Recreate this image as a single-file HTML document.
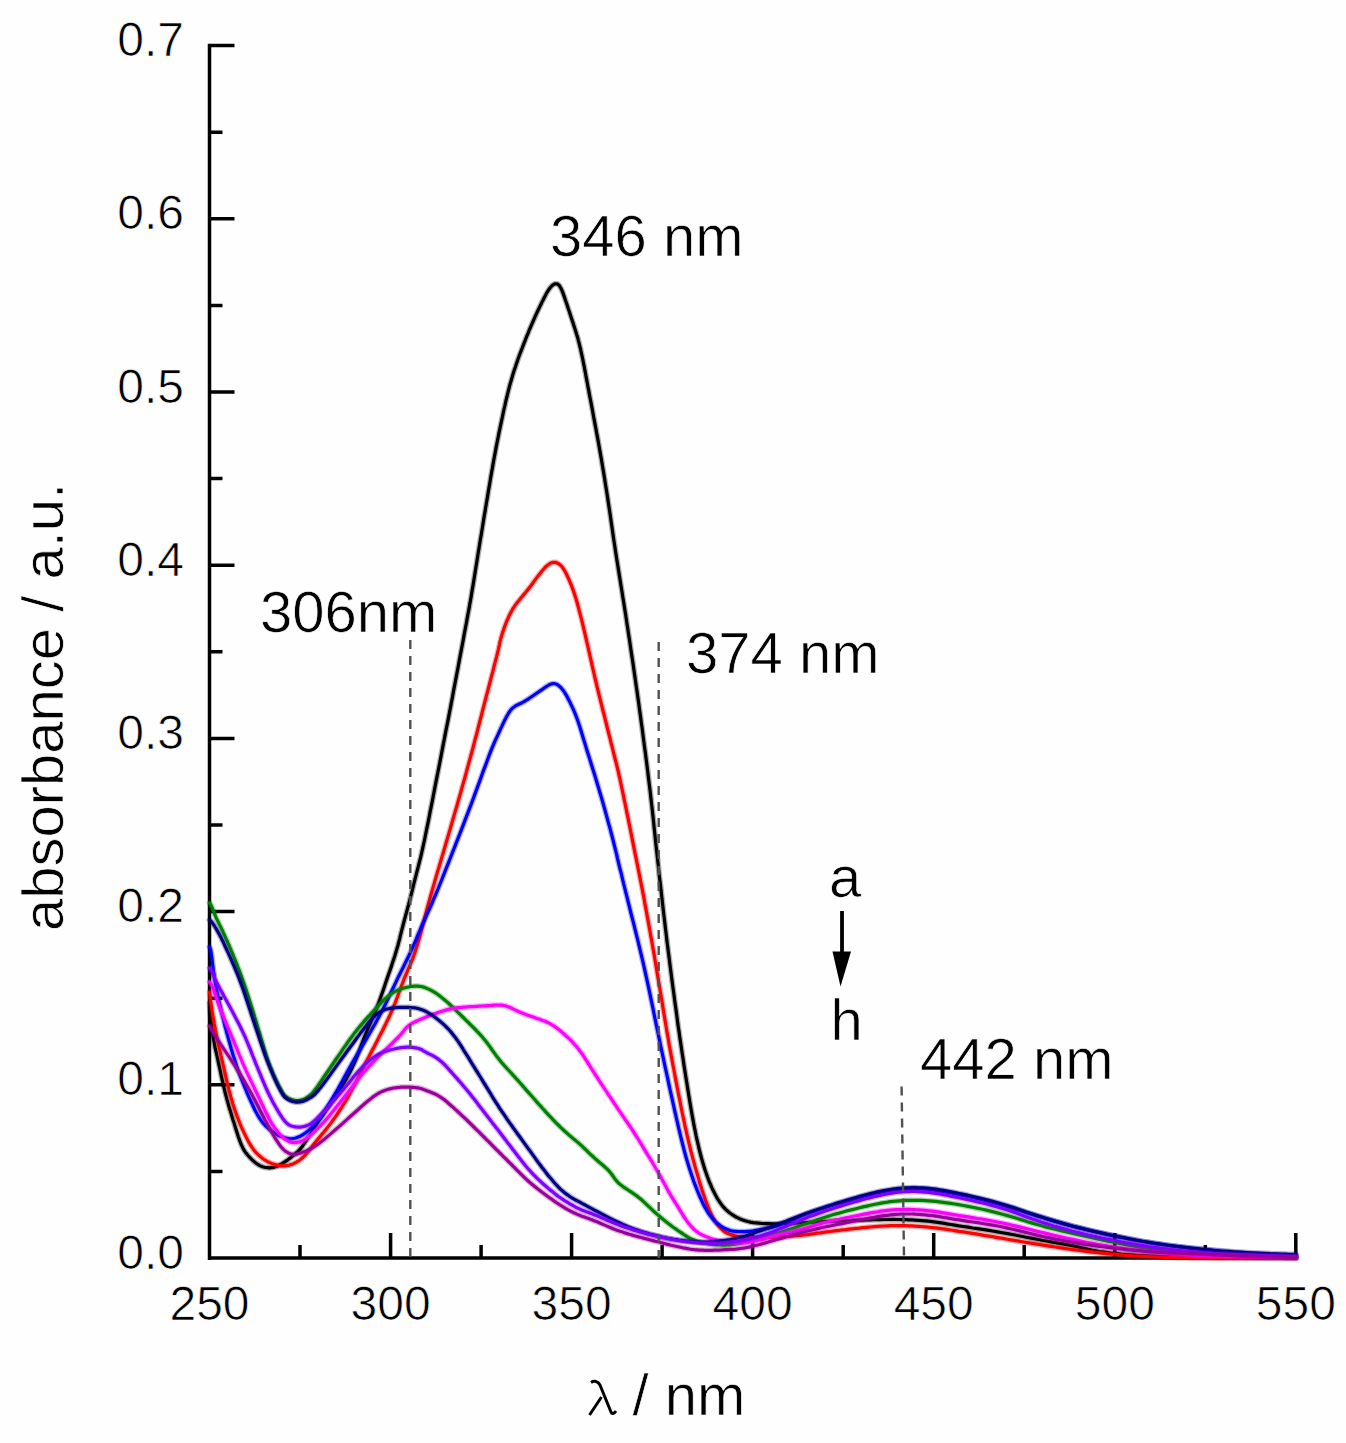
<!DOCTYPE html>
<html><head><meta charset="utf-8"><style>
html,body{margin:0;padding:0;background:#fefefe;}
svg{display:block;}
text{font-family:"Liberation Sans",sans-serif;fill:#000;stroke:#fff;stroke-width:0.7px;}
</style></head><body>
<svg width="1346" height="1443" viewBox="0 0 1346 1443">
<rect width="1346" height="1443" fill="#fefefe"/>
<g stroke="#000" stroke-width="3.5" fill="none" stroke-linecap="butt">
<path d="M209.5 44V1260M207.8 1258H1297.5M207.8 45.5H234.5 M209.5 1171.4H222.5 M209.5 1084.8H234.5 M209.5 998.2H222.5 M209.5 911.6H234.5 M209.5 825.0H222.5 M209.5 738.4H234.5 M209.5 651.8H222.5 M209.5 565.2H234.5 M209.5 478.6H222.5 M209.5 392.0H234.5 M209.5 305.4H222.5 M209.5 218.8H234.5 M209.5 132.2H222.5 M209.5 45.6H234.5 M300.0 1258V1245 M390.6 1258V1233 M481.1 1258V1245 M571.6 1258V1233 M662.1 1258V1245 M752.6 1258V1233 M843.2 1258V1245 M933.7 1258V1233 M1024.2 1258V1245 M1114.8 1258V1233 M1205.3 1258V1245 M1295.8 1258V1233"/>
</g>
<g fill="none" stroke-width="3.2" stroke-linejoin="round" stroke-linecap="round">
<path stroke="#000000" stroke-opacity="0.3" stroke-width="5.8" d="M209.5 1003.0 209.5 1003.5 209.6 1004.5 209.8 1006.1 210.0 1008.2 210.2 1010.7 210.5 1013.8 210.8 1017.4 211.2 1021.6 211.6 1025.6 212.1 1029.6 212.6 1033.6 213.2 1037.4 213.9 1041.2 214.6 1045.0 215.3 1048.7 216.2 1052.3 217.0 1056.0 217.8 1059.6 218.6 1063.3 219.4 1067.0 220.2 1070.7 221.0 1074.4 221.8 1078.1 222.7 1081.9 223.5 1085.6 224.4 1089.2 225.2 1092.8 226.2 1096.4 227.1 1099.9 228.1 1103.4 229.0 1106.8 230.1 1110.2 231.1 1113.5 232.1 1116.9 233.1 1120.2 234.2 1123.5 235.2 1126.8 236.2 1130.1 237.3 1133.4 238.3 1136.6 239.4 1139.6 240.4 1142.4 241.4 1144.9 242.5 1147.1 243.5 1149.1 244.5 1150.9 245.5 1152.4 246.5 1153.6 247.5 1154.8 248.5 1156.0 249.5 1157.1 250.5 1158.2 251.5 1159.2 252.5 1160.1 253.5 1161.1 254.5 1161.9 255.5 1162.8 256.5 1163.5 257.5 1164.2 258.5 1164.8 259.5 1165.4 260.5 1165.9 261.5 1166.3 262.5 1166.7 263.5 1167.0 264.5 1167.3 265.6 1167.5 266.7 1167.6 267.7 1167.7 268.8 1167.8 269.9 1167.8 271.1 1167.7 272.2 1167.6 273.4 1167.4 274.5 1167.1 275.7 1166.7 276.9 1166.2 278.1 1165.7 279.4 1165.1 280.6 1164.4 281.9 1163.7 283.1 1163.0 284.3 1162.2 285.5 1161.4 286.6 1160.6 287.8 1159.8 288.9 1158.9 290.1 1158.1 291.2 1157.2 292.3 1156.3 293.3 1155.4 294.4 1154.6 295.4 1153.7 296.4 1152.8 297.4 1151.9 298.3 1151.1 299.4 1149.9 300.7 1148.4 302.0 1146.7 303.5 1144.6 305.2 1142.2 306.9 1139.6 308.8 1136.6 310.9 1133.4 312.9 1130.1 315.1 1126.8 317.2 1123.5 319.4 1120.2 321.7 1116.9 324.0 1113.5 326.3 1110.2 328.7 1106.8 331.0 1103.4 333.4 1099.9 335.6 1096.4 337.9 1092.8 340.1 1089.2 342.3 1085.6 344.5 1081.9 346.7 1078.1 348.7 1074.4 350.7 1070.7 352.5 1067.0 354.2 1063.3 355.8 1059.6 357.3 1056.0 358.8 1052.3 360.1 1048.7 361.4 1045.1 362.7 1041.5 364.1 1037.9 365.6 1034.3 367.0 1030.8 368.5 1027.3 370.0 1023.8 371.6 1020.2 373.1 1016.8 374.5 1013.2 376.0 1009.8 377.4 1006.2 378.7 1002.8 380.0 999.2 381.2 995.8 382.5 992.2 383.7 988.7 384.9 985.2 386.1 981.6 387.4 977.9 388.6 974.3 389.9 970.6 391.2 966.9 392.4 963.1 393.6 959.5 394.8 955.9 395.9 952.3 396.9 948.9 397.9 945.5 398.7 942.3 399.6 939.1 400.3 935.9 401.1 932.8 401.9 929.7 402.7 926.6 403.5 923.4 404.3 920.3 405.2 917.2 406.0 914.1 406.9 910.9 407.7 907.8 408.6 904.7 409.4 901.6 410.2 898.4 411.0 895.3 411.8 892.2 412.6 889.1 413.3 885.9 414.1 882.8 414.9 879.7 415.7 876.6 416.5 873.4 417.3 870.3 418.1 867.2 418.9 864.1 419.7 860.9 420.6 857.4 421.5 853.5 422.5 849.2 423.5 844.5 424.6 839.5 425.7 834.0 426.9 828.1 428.2 821.9 429.4 815.6 430.6 809.4 431.9 803.1 433.1 796.9 434.3 790.6 435.5 784.4 436.7 778.1 438.0 771.9 439.2 765.6 440.4 759.4 441.6 753.1 442.8 746.9 444.0 740.6 445.2 734.4 446.4 728.1 447.7 721.9 448.9 715.6 450.1 709.4 451.3 703.1 452.5 696.9 453.6 690.6 454.8 684.4 456.0 678.1 457.2 671.9 458.4 665.6 459.5 659.4 460.7 653.1 461.9 646.9 463.1 640.6 464.2 634.4 465.4 628.1 466.6 621.9 467.7 615.6 468.9 609.4 470.0 603.1 471.1 596.9 472.1 590.6 473.2 584.4 474.2 578.1 475.2 571.9 476.2 565.6 477.2 559.4 478.2 553.1 479.2 546.9 480.2 540.6 481.3 534.4 482.3 528.1 483.3 521.9 484.3 515.6 485.4 509.4 486.4 503.1 487.5 496.9 488.5 490.6 489.6 484.4 490.6 478.1 491.7 471.9 492.8 465.6 493.9 459.4 495.1 453.1 496.2 446.9 497.5 440.6 498.7 434.4 500.0 428.1 501.3 421.9 502.6 416.0 503.7 410.5 504.9 405.5 505.9 400.8 507.0 396.5 507.9 392.6 508.8 389.1 509.6 385.9 510.5 382.8 511.4 379.7 512.3 376.6 513.2 373.4 514.2 370.3 515.3 367.2 516.3 364.1 517.4 360.9 518.5 357.7 519.7 354.5 521.0 351.1 522.3 347.7 523.7 344.1 525.1 340.5 526.5 336.9 528.1 333.1 529.5 329.5 531.0 326.1 532.4 322.8 533.8 319.7 535.1 316.7 536.4 313.9 537.6 311.2 538.8 308.8 539.9 306.4 541.0 304.2 542.0 302.1 543.0 300.2 543.8 298.5 544.7 296.9 545.4 295.4 546.1 294.1 546.8 292.8 547.5 291.7 548.2 290.5 548.9 289.5 549.6 288.5 550.4 287.5 551.1 286.7 551.9 285.8 552.6 285.2 553.4 284.6 554.1 284.2 554.8 283.9 555.5 283.8 556.2 283.8 556.9 283.9 557.6 284.1 558.3 284.6 559.0 285.2 559.7 286.1 560.3 287.2 561.0 288.4 561.7 289.9 562.4 291.6 563.1 293.4 563.8 295.4 564.5 297.4 565.2 299.5 566.0 301.7 566.8 304.0 567.5 306.3 568.3 308.8 569.2 311.2 570.0 313.7 570.8 316.2 571.6 318.7 572.4 321.1 573.2 323.5 574.0 326.0 574.8 328.4 575.5 330.7 576.3 333.2 577.0 335.6 577.8 338.1 578.4 340.6 579.1 343.1 579.7 345.7 580.4 348.2 580.9 350.9 581.5 353.5 582.1 356.2 582.7 359.0 583.2 361.7 583.8 364.6 584.4 367.5 584.9 370.4 585.5 373.3 586.0 376.2 586.5 378.9 587.0 381.5 587.5 384.0 587.9 386.4 588.3 388.7 588.8 390.8 589.1 392.9 589.6 395.4 590.2 398.5 590.9 402.1 591.7 406.3 592.6 411.0 593.5 416.2 594.6 421.9 595.8 428.1 596.9 434.4 598.1 440.6 599.2 446.9 600.3 453.1 601.4 459.4 602.4 465.6 603.5 471.9 604.5 478.1 605.5 484.4 606.5 490.6 607.5 496.9 608.4 503.1 609.4 509.4 610.3 515.6 611.2 521.9 612.1 528.1 613.0 534.4 613.9 540.6 614.9 546.9 615.8 553.1 616.8 559.4 617.8 565.6 618.8 571.9 619.8 578.1 620.8 584.4 621.8 590.6 622.8 596.9 623.8 603.1 624.8 609.4 625.8 615.6 626.7 621.9 627.7 628.1 628.6 634.4 629.6 640.6 630.5 646.9 631.4 653.1 632.4 659.4 633.3 665.6 634.2 671.9 635.1 678.1 636.0 684.4 636.9 690.6 637.8 696.9 638.7 703.1 639.5 709.4 640.4 715.6 641.2 721.9 642.1 728.1 642.9 734.4 643.7 740.6 644.5 746.9 645.4 753.1 646.2 759.4 647.0 765.6 647.8 771.9 648.5 778.1 649.3 784.4 650.1 790.6 650.8 796.9 651.5 803.1 652.2 809.4 652.9 815.6 653.6 821.9 654.2 828.1 654.9 834.4 655.5 840.6 656.2 846.9 656.9 853.1 657.6 859.4 658.3 865.6 658.9 871.9 659.6 878.1 660.4 884.4 661.1 890.6 661.8 896.9 662.5 903.1 663.2 909.4 663.9 915.6 664.7 921.9 665.4 928.1 666.2 934.4 666.9 940.6 667.7 946.9 668.5 953.1 669.3 959.4 670.1 965.6 670.9 971.9 671.7 978.1 672.5 984.2 673.3 990.1 674.1 995.9 674.8 1001.4 675.6 1006.8 676.3 1012.0 677.0 1017.1 677.6 1022.0 678.3 1027.0 679.1 1032.1 679.8 1037.3 680.6 1042.5 681.4 1047.9 682.2 1053.4 683.1 1059.0 683.9 1064.7 684.8 1070.4 685.7 1076.0 686.6 1081.7 687.5 1087.3 688.4 1092.9 689.3 1098.5 690.2 1104.1 691.2 1109.7 692.1 1115.1 693.1 1120.5 694.1 1125.7 695.1 1130.8 696.1 1135.8 697.2 1140.7 698.3 1145.4 699.4 1150.1 700.5 1154.5 701.7 1158.9 702.9 1163.0 704.1 1167.0 705.3 1170.8 706.6 1174.5 707.9 1178.0 709.1 1181.3 710.5 1184.5 711.8 1187.6 713.2 1190.5 714.6 1193.3 716.0 1195.9 717.4 1198.5 718.9 1200.8 720.4 1203.1 722.0 1205.2 723.6 1207.2 725.4 1209.1 727.3 1210.8 729.2 1212.5 731.3 1214.0 733.4 1215.4 735.6 1216.8 737.9 1217.9 740.3 1219.0 742.7 1219.9 745.2 1220.8 747.8 1221.5 750.4 1222.1 753.2 1222.6 755.9 1222.9 758.9 1223.2 762.1 1223.5 765.4 1223.6 769.0 1223.7 772.7 1223.8 776.6 1223.8 780.7 1223.7 785.0 1223.5 789.1 1223.4 793.1 1223.2 797.0 1223.0 800.7 1222.9 804.3 1222.7 807.7 1222.5 810.9 1222.3 814.1 1222.2 817.2 1222.0 820.3 1221.8 823.4 1221.6 826.6 1221.5 829.7 1221.3 832.8 1221.2 835.9 1221.1 839.1 1220.9 842.3 1220.8 845.5 1220.7 848.9 1220.6 852.3 1220.4 855.9 1220.3 859.5 1220.2 863.1 1220.1 866.9 1219.9 870.5 1219.8 874.1 1219.7 877.5 1219.6 880.9 1219.6 884.1 1219.5 887.3 1219.5 890.4 1219.5 893.3 1219.4 896.3 1219.5 899.4 1219.5 902.5 1219.6 905.6 1219.7 908.8 1219.8 912.0 1219.9 915.2 1220.1 918.5 1220.3 921.8 1220.6 925.2 1220.9 928.7 1221.2 932.2 1221.6 935.8 1222.1 939.4 1222.6 943.1 1223.2 946.9 1223.9 950.8 1224.5 954.8 1225.2 959.1 1225.9 963.4 1226.5 968.0 1227.2 972.7 1228.0 977.5 1228.7 982.5 1229.4 987.5 1230.2 992.5 1231.0 997.5 1231.8 1002.5 1232.7 1007.5 1233.6 1012.5 1234.5 1017.5 1235.5 1022.5 1236.5 1027.4 1237.5 1032.3 1238.4 1037.0 1239.3 1041.7 1240.2 1046.3 1241.0 1050.9 1241.8 1055.3 1242.6 1059.7 1243.4 1063.9 1244.1 1067.9 1244.9 1071.8 1245.6 1075.5 1246.4 1079.0 1247.1 1082.3 1247.9 1085.5 1248.6 1088.5 1249.4 1091.9 1250.1 1095.8 1250.8 1100.0 1251.5 1104.7 1252.1 1109.8 1252.8 1115.4 1253.4 1121.3 1254.0 1127.7 1254.5 1134.0 1255.0 1140.4 1255.5 1146.7 1255.9 1153.0 1256.2 1159.3 1256.5 1165.6 1256.8 1171.9 1256.9 1178.1 1257.1 1185.1 1257.2 1192.8 1257.3 1201.2 1257.4 1210.3 1257.5 1220.2 1257.6 1230.7 1257.6 1242.0 1257.7 1254.0 1257.8 1264.5 1257.8 1273.5 1257.9 1281.0 1257.9 1287.0 1258.0 1291.5 1258.0 1294.5 1258.0 1296.0 1258.0"/>
<path stroke="#000000" d="M209.5 1003.0 209.5 1003.5 209.6 1004.5 209.8 1006.1 210.0 1008.2 210.2 1010.7 210.5 1013.8 210.8 1017.4 211.2 1021.6 211.6 1025.6 212.1 1029.6 212.6 1033.6 213.2 1037.4 213.9 1041.2 214.6 1045.0 215.3 1048.7 216.2 1052.3 217.0 1056.0 217.8 1059.6 218.6 1063.3 219.4 1067.0 220.2 1070.7 221.0 1074.4 221.8 1078.1 222.7 1081.9 223.5 1085.6 224.4 1089.2 225.2 1092.8 226.2 1096.4 227.1 1099.9 228.1 1103.4 229.0 1106.8 230.1 1110.2 231.1 1113.5 232.1 1116.9 233.1 1120.2 234.2 1123.5 235.2 1126.8 236.2 1130.1 237.3 1133.4 238.3 1136.6 239.4 1139.6 240.4 1142.4 241.4 1144.9 242.5 1147.1 243.5 1149.1 244.5 1150.9 245.5 1152.4 246.5 1153.6 247.5 1154.8 248.5 1156.0 249.5 1157.1 250.5 1158.2 251.5 1159.2 252.5 1160.1 253.5 1161.1 254.5 1161.9 255.5 1162.8 256.5 1163.5 257.5 1164.2 258.5 1164.8 259.5 1165.4 260.5 1165.9 261.5 1166.3 262.5 1166.7 263.5 1167.0 264.5 1167.3 265.6 1167.5 266.7 1167.6 267.7 1167.7 268.8 1167.8 269.9 1167.8 271.1 1167.7 272.2 1167.6 273.4 1167.4 274.5 1167.1 275.7 1166.7 276.9 1166.2 278.1 1165.7 279.4 1165.1 280.6 1164.4 281.9 1163.7 283.1 1163.0 284.3 1162.2 285.5 1161.4 286.6 1160.6 287.8 1159.8 288.9 1158.9 290.1 1158.1 291.2 1157.2 292.3 1156.3 293.3 1155.4 294.4 1154.6 295.4 1153.7 296.4 1152.8 297.4 1151.9 298.3 1151.1 299.4 1149.9 300.7 1148.4 302.0 1146.7 303.5 1144.6 305.2 1142.2 306.9 1139.6 308.8 1136.6 310.9 1133.4 312.9 1130.1 315.1 1126.8 317.2 1123.5 319.4 1120.2 321.7 1116.9 324.0 1113.5 326.3 1110.2 328.7 1106.8 331.0 1103.4 333.4 1099.9 335.6 1096.4 337.9 1092.8 340.1 1089.2 342.3 1085.6 344.5 1081.9 346.7 1078.1 348.7 1074.4 350.7 1070.7 352.5 1067.0 354.2 1063.3 355.8 1059.6 357.3 1056.0 358.8 1052.3 360.1 1048.7 361.4 1045.1 362.7 1041.5 364.1 1037.9 365.6 1034.3 367.0 1030.8 368.5 1027.3 370.0 1023.8 371.6 1020.2 373.1 1016.8 374.5 1013.2 376.0 1009.8 377.4 1006.2 378.7 1002.8 380.0 999.2 381.2 995.8 382.5 992.2 383.7 988.7 384.9 985.2 386.1 981.6 387.4 977.9 388.6 974.3 389.9 970.6 391.2 966.9 392.4 963.1 393.6 959.5 394.8 955.9 395.9 952.3 396.9 948.9 397.9 945.5 398.7 942.3 399.6 939.1 400.3 935.9 401.1 932.8 401.9 929.7 402.7 926.6 403.5 923.4 404.3 920.3 405.2 917.2 406.0 914.1 406.9 910.9 407.7 907.8 408.6 904.7 409.4 901.6 410.2 898.4 411.0 895.3 411.8 892.2 412.6 889.1 413.3 885.9 414.1 882.8 414.9 879.7 415.7 876.6 416.5 873.4 417.3 870.3 418.1 867.2 418.9 864.1 419.7 860.9 420.6 857.4 421.5 853.5 422.5 849.2 423.5 844.5 424.6 839.5 425.7 834.0 426.9 828.1 428.2 821.9 429.4 815.6 430.6 809.4 431.9 803.1 433.1 796.9 434.3 790.6 435.5 784.4 436.7 778.1 438.0 771.9 439.2 765.6 440.4 759.4 441.6 753.1 442.8 746.9 444.0 740.6 445.2 734.4 446.4 728.1 447.7 721.9 448.9 715.6 450.1 709.4 451.3 703.1 452.5 696.9 453.6 690.6 454.8 684.4 456.0 678.1 457.2 671.9 458.4 665.6 459.5 659.4 460.7 653.1 461.9 646.9 463.1 640.6 464.2 634.4 465.4 628.1 466.6 621.9 467.7 615.6 468.9 609.4 470.0 603.1 471.1 596.9 472.1 590.6 473.2 584.4 474.2 578.1 475.2 571.9 476.2 565.6 477.2 559.4 478.2 553.1 479.2 546.9 480.2 540.6 481.3 534.4 482.3 528.1 483.3 521.9 484.3 515.6 485.4 509.4 486.4 503.1 487.5 496.9 488.5 490.6 489.6 484.4 490.6 478.1 491.7 471.9 492.8 465.6 493.9 459.4 495.1 453.1 496.2 446.9 497.5 440.6 498.7 434.4 500.0 428.1 501.3 421.9 502.6 416.0 503.7 410.5 504.9 405.5 505.9 400.8 507.0 396.5 507.9 392.6 508.8 389.1 509.6 385.9 510.5 382.8 511.4 379.7 512.3 376.6 513.2 373.4 514.2 370.3 515.3 367.2 516.3 364.1 517.4 360.9 518.5 357.7 519.7 354.5 521.0 351.1 522.3 347.7 523.7 344.1 525.1 340.5 526.5 336.9 528.1 333.1 529.5 329.5 531.0 326.1 532.4 322.8 533.8 319.7 535.1 316.7 536.4 313.9 537.6 311.2 538.8 308.8 539.9 306.4 541.0 304.2 542.0 302.1 543.0 300.2 543.8 298.5 544.7 296.9 545.4 295.4 546.1 294.1 546.8 292.8 547.5 291.7 548.2 290.5 548.9 289.5 549.6 288.5 550.4 287.5 551.1 286.7 551.9 285.8 552.6 285.2 553.4 284.6 554.1 284.2 554.8 283.9 555.5 283.8 556.2 283.8 556.9 283.9 557.6 284.1 558.3 284.6 559.0 285.2 559.7 286.1 560.3 287.2 561.0 288.4 561.7 289.9 562.4 291.6 563.1 293.4 563.8 295.4 564.5 297.4 565.2 299.5 566.0 301.7 566.8 304.0 567.5 306.3 568.3 308.8 569.2 311.2 570.0 313.7 570.8 316.2 571.6 318.7 572.4 321.1 573.2 323.5 574.0 326.0 574.8 328.4 575.5 330.7 576.3 333.2 577.0 335.6 577.8 338.1 578.4 340.6 579.1 343.1 579.7 345.7 580.4 348.2 580.9 350.9 581.5 353.5 582.1 356.2 582.7 359.0 583.2 361.7 583.8 364.6 584.4 367.5 584.9 370.4 585.5 373.3 586.0 376.2 586.5 378.9 587.0 381.5 587.5 384.0 587.9 386.4 588.3 388.7 588.8 390.8 589.1 392.9 589.6 395.4 590.2 398.5 590.9 402.1 591.7 406.3 592.6 411.0 593.5 416.2 594.6 421.9 595.8 428.1 596.9 434.4 598.1 440.6 599.2 446.9 600.3 453.1 601.4 459.4 602.4 465.6 603.5 471.9 604.5 478.1 605.5 484.4 606.5 490.6 607.5 496.9 608.4 503.1 609.4 509.4 610.3 515.6 611.2 521.9 612.1 528.1 613.0 534.4 613.9 540.6 614.9 546.9 615.8 553.1 616.8 559.4 617.8 565.6 618.8 571.9 619.8 578.1 620.8 584.4 621.8 590.6 622.8 596.9 623.8 603.1 624.8 609.4 625.8 615.6 626.7 621.9 627.7 628.1 628.6 634.4 629.6 640.6 630.5 646.9 631.4 653.1 632.4 659.4 633.3 665.6 634.2 671.9 635.1 678.1 636.0 684.4 636.9 690.6 637.8 696.9 638.7 703.1 639.5 709.4 640.4 715.6 641.2 721.9 642.1 728.1 642.9 734.4 643.7 740.6 644.5 746.9 645.4 753.1 646.2 759.4 647.0 765.6 647.8 771.9 648.5 778.1 649.3 784.4 650.1 790.6 650.8 796.9 651.5 803.1 652.2 809.4 652.9 815.6 653.6 821.9 654.2 828.1 654.9 834.4 655.5 840.6 656.2 846.9 656.9 853.1 657.6 859.4 658.3 865.6 658.9 871.9 659.6 878.1 660.4 884.4 661.1 890.6 661.8 896.9 662.5 903.1 663.2 909.4 663.9 915.6 664.7 921.9 665.4 928.1 666.2 934.4 666.9 940.6 667.7 946.9 668.5 953.1 669.3 959.4 670.1 965.6 670.9 971.9 671.7 978.1 672.5 984.2 673.3 990.1 674.1 995.9 674.8 1001.4 675.6 1006.8 676.3 1012.0 677.0 1017.1 677.6 1022.0 678.3 1027.0 679.1 1032.1 679.8 1037.3 680.6 1042.5 681.4 1047.9 682.2 1053.4 683.1 1059.0 683.9 1064.7 684.8 1070.4 685.7 1076.0 686.6 1081.7 687.5 1087.3 688.4 1092.9 689.3 1098.5 690.2 1104.1 691.2 1109.7 692.1 1115.1 693.1 1120.5 694.1 1125.7 695.1 1130.8 696.1 1135.8 697.2 1140.7 698.3 1145.4 699.4 1150.1 700.5 1154.5 701.7 1158.9 702.9 1163.0 704.1 1167.0 705.3 1170.8 706.6 1174.5 707.9 1178.0 709.1 1181.3 710.5 1184.5 711.8 1187.6 713.2 1190.5 714.6 1193.3 716.0 1195.9 717.4 1198.5 718.9 1200.8 720.4 1203.1 722.0 1205.2 723.6 1207.2 725.4 1209.1 727.3 1210.8 729.2 1212.5 731.3 1214.0 733.4 1215.4 735.6 1216.8 737.9 1217.9 740.3 1219.0 742.7 1219.9 745.2 1220.8 747.8 1221.5 750.4 1222.1 753.2 1222.6 755.9 1222.9 758.9 1223.2 762.1 1223.5 765.4 1223.6 769.0 1223.7 772.7 1223.8 776.6 1223.8 780.7 1223.7 785.0 1223.5 789.1 1223.4 793.1 1223.2 797.0 1223.0 800.7 1222.9 804.3 1222.7 807.7 1222.5 810.9 1222.3 814.1 1222.2 817.2 1222.0 820.3 1221.8 823.4 1221.6 826.6 1221.5 829.7 1221.3 832.8 1221.2 835.9 1221.1 839.1 1220.9 842.3 1220.8 845.5 1220.7 848.9 1220.6 852.3 1220.4 855.9 1220.3 859.5 1220.2 863.1 1220.1 866.9 1219.9 870.5 1219.8 874.1 1219.7 877.5 1219.6 880.9 1219.6 884.1 1219.5 887.3 1219.5 890.4 1219.5 893.3 1219.4 896.3 1219.5 899.4 1219.5 902.5 1219.6 905.6 1219.7 908.8 1219.8 912.0 1219.9 915.2 1220.1 918.5 1220.3 921.8 1220.6 925.2 1220.9 928.7 1221.2 932.2 1221.6 935.8 1222.1 939.4 1222.6 943.1 1223.2 946.9 1223.9 950.8 1224.5 954.8 1225.2 959.1 1225.9 963.4 1226.5 968.0 1227.2 972.7 1228.0 977.5 1228.7 982.5 1229.4 987.5 1230.2 992.5 1231.0 997.5 1231.8 1002.5 1232.7 1007.5 1233.6 1012.5 1234.5 1017.5 1235.5 1022.5 1236.5 1027.4 1237.5 1032.3 1238.4 1037.0 1239.3 1041.7 1240.2 1046.3 1241.0 1050.9 1241.8 1055.3 1242.6 1059.7 1243.4 1063.9 1244.1 1067.9 1244.9 1071.8 1245.6 1075.5 1246.4 1079.0 1247.1 1082.3 1247.9 1085.5 1248.6 1088.5 1249.4 1091.9 1250.1 1095.8 1250.8 1100.0 1251.5 1104.7 1252.1 1109.8 1252.8 1115.4 1253.4 1121.3 1254.0 1127.7 1254.5 1134.0 1255.0 1140.4 1255.5 1146.7 1255.9 1153.0 1256.2 1159.3 1256.5 1165.6 1256.8 1171.9 1256.9 1178.1 1257.1 1185.1 1257.2 1192.8 1257.3 1201.2 1257.4 1210.3 1257.5 1220.2 1257.6 1230.7 1257.6 1242.0 1257.7 1254.0 1257.8 1264.5 1257.8 1273.5 1257.9 1281.0 1257.9 1287.0 1258.0 1291.5 1258.0 1294.5 1258.0 1296.0 1258.0"/>
<path stroke="#ff0000" stroke-opacity="0.3" stroke-width="5.8" d="M209.5 992.0 209.5 992.2 209.6 992.8 209.7 993.5 209.8 994.5 210.0 995.8 210.2 997.2 210.4 999.0 210.6 1001.0 210.9 1003.2 211.3 1005.6 211.7 1008.1 212.1 1010.9 212.6 1013.8 213.1 1016.9 213.7 1020.2 214.3 1023.8 215.0 1027.3 215.6 1030.8 216.3 1034.3 217.1 1037.9 217.8 1041.5 218.6 1045.1 219.4 1048.7 220.3 1052.3 221.1 1056.0 221.9 1059.6 222.8 1063.3 223.6 1067.0 224.5 1070.7 225.3 1074.4 226.1 1078.1 227.0 1081.9 227.8 1085.6 228.7 1089.2 229.7 1092.8 230.7 1096.4 231.7 1099.9 232.7 1103.4 233.8 1106.8 234.9 1110.2 236.1 1113.5 237.3 1116.9 238.6 1120.2 239.9 1123.5 241.3 1126.8 242.8 1130.1 244.3 1133.4 245.9 1136.6 247.4 1139.6 248.9 1142.4 250.4 1144.9 251.9 1147.2 253.3 1149.2 254.7 1151.0 256.0 1152.6 257.4 1153.9 258.7 1155.1 260.0 1156.3 261.3 1157.4 262.6 1158.4 263.8 1159.3 265.1 1160.1 266.4 1160.9 267.6 1161.6 268.9 1162.2 270.2 1162.8 271.6 1163.4 272.9 1163.9 274.3 1164.3 275.8 1164.7 277.2 1165.1 278.8 1165.4 280.2 1165.6 281.7 1165.8 283.2 1165.8 284.6 1165.8 286.0 1165.7 287.4 1165.5 288.8 1165.2 290.2 1164.8 291.5 1164.4 292.9 1163.9 294.2 1163.3 295.5 1162.6 296.8 1161.9 298.1 1161.1 299.4 1160.2 300.6 1159.3 301.8 1158.3 303.0 1157.2 304.2 1156.1 305.3 1155.0 306.4 1153.8 307.5 1152.5 308.5 1151.2 309.5 1149.8 310.7 1148.2 312.0 1146.5 313.5 1144.6 315.2 1142.4 317.1 1140.1 319.2 1137.6 321.4 1134.9 323.8 1132.1 326.2 1129.1 328.5 1126.1 330.8 1123.1 333.1 1119.9 335.4 1116.8 337.6 1113.5 339.8 1110.2 342.0 1106.8 344.1 1103.3 346.3 1099.8 348.4 1096.1 350.5 1092.4 352.6 1088.5 354.7 1084.6 356.8 1080.6 358.8 1076.4 360.8 1072.4 362.8 1068.5 364.7 1064.7 366.6 1061.0 368.5 1057.5 370.3 1054.0 372.0 1050.6 373.8 1047.4 375.5 1044.1 377.2 1040.8 378.9 1037.4 380.6 1034.1 382.4 1030.7 384.1 1027.2 385.8 1023.8 387.5 1020.2 389.2 1016.8 390.8 1013.2 392.3 1009.8 393.8 1006.2 395.2 1002.8 396.5 999.2 397.8 995.8 399.1 992.2 400.4 988.7 401.7 985.2 403.1 981.6 404.5 977.9 406.0 974.3 407.6 970.6 409.2 966.9 410.8 963.1 412.5 959.1 414.1 954.7 415.7 950.0 417.3 945.0 418.9 939.7 420.5 934.1 422.1 928.1 423.7 921.9 425.3 915.6 426.9 909.4 428.6 903.1 430.3 896.9 432.1 890.6 433.9 884.4 435.7 878.1 437.5 871.9 439.4 865.6 441.2 859.4 443.1 853.1 444.9 846.9 446.7 840.6 448.6 834.4 450.4 828.1 452.2 821.9 454.0 815.6 455.8 809.4 457.6 803.1 459.4 796.9 461.2 790.6 462.9 784.4 464.7 778.1 466.4 771.9 468.1 765.6 469.8 759.4 471.5 753.1 473.2 746.9 474.8 740.6 476.5 734.4 478.1 728.1 479.7 721.9 481.3 715.6 482.9 709.4 484.5 703.1 486.1 696.9 487.8 690.6 489.4 684.4 491.0 678.1 492.7 671.9 494.1 666.2 495.4 661.2 496.6 656.7 497.5 652.8 498.3 649.6 498.9 646.9 499.4 644.8 499.6 643.3 500.0 641.7 500.4 640.1 500.8 638.3 501.4 636.4 502.0 634.5 502.6 632.4 503.4 630.3 504.1 628.0 504.9 625.9 505.7 623.8 506.5 621.8 507.3 619.9 508.1 618.1 508.8 616.4 509.6 614.8 510.4 613.2 511.2 611.7 512.0 610.3 512.8 608.9 513.6 607.6 514.5 606.3 515.3 605.0 516.2 603.9 517.1 602.7 518.0 601.6 519.0 600.4 519.9 599.2 520.9 598.0 522.0 596.7 523.0 595.4 524.1 594.1 525.3 592.8 526.4 591.4 527.5 590.0 528.6 588.6 529.7 587.2 530.9 585.7 532.0 584.2 533.1 582.7 534.2 581.1 535.3 579.6 536.4 578.1 537.5 576.6 538.7 575.2 539.8 573.8 540.9 572.4 542.0 571.0 543.1 569.7 544.2 568.5 545.2 567.3 546.3 566.3 547.3 565.4 548.2 564.7 549.2 564.0 550.1 563.4 551.0 563.0 551.9 562.6 552.8 562.4 553.7 562.3 554.6 562.3 555.5 562.4 556.4 562.6 557.2 563.0 558.2 563.4 559.0 564.0 559.9 564.7 560.8 565.4 561.6 566.3 562.4 567.3 563.2 568.5 564.0 569.7 564.8 571.0 565.6 572.5 566.4 574.0 567.2 575.7 568.0 577.5 568.9 579.4 569.7 581.4 570.6 583.5 571.5 585.7 572.4 588.1 573.3 590.6 574.2 593.2 575.1 596.0 576.0 598.9 576.9 602.0 577.8 605.2 578.7 608.5 579.5 611.9 580.4 615.2 581.3 618.5 582.1 621.9 582.9 625.2 583.7 628.6 584.5 631.9 585.3 635.3 586.1 638.8 586.9 642.4 587.8 646.2 588.7 650.1 589.6 654.1 590.5 658.3 591.5 662.6 592.5 667.1 593.5 671.5 594.5 676.0 595.6 680.5 596.6 684.9 597.7 689.4 598.8 693.8 599.9 698.3 601.0 702.7 602.1 707.2 603.2 711.6 604.4 716.1 605.5 720.5 606.6 725.0 607.7 729.5 608.8 733.9 610.0 738.4 611.0 742.7 612.1 746.8 613.1 750.8 614.0 754.6 614.9 758.2 615.8 761.6 616.6 764.9 617.4 768.1 618.3 771.8 619.2 776.0 620.3 780.8 621.4 786.2 622.7 792.1 624.0 798.6 625.5 805.7 627.0 813.3 628.6 820.9 630.1 828.5 631.6 836.0 633.1 843.6 634.6 851.1 636.1 858.5 637.6 866.0 639.1 873.4 640.6 881.0 642.1 888.6 643.6 896.4 645.0 904.3 646.5 912.3 648.0 920.4 649.5 928.7 651.0 937.0 652.5 945.5 654.0 954.0 655.5 962.7 656.9 971.4 658.4 980.2 659.9 989.1 661.4 998.1 662.9 1007.2 664.3 1015.9 665.7 1024.2 667.0 1032.0 668.3 1039.4 669.5 1046.4 670.7 1052.9 671.8 1059.0 672.9 1064.7 674.0 1070.5 675.1 1076.4 676.2 1082.4 677.4 1088.5 678.6 1094.7 679.9 1101.0 681.1 1107.3 682.4 1113.8 683.8 1120.2 685.1 1126.5 686.5 1132.7 687.9 1138.7 689.3 1144.6 690.7 1150.4 692.2 1156.1 693.7 1161.7 695.2 1167.1 696.7 1172.3 698.2 1177.4 699.6 1182.3 701.1 1187.1 702.6 1191.7 704.1 1196.1 705.6 1200.4 707.1 1204.4 708.6 1208.1 710.0 1211.5 711.5 1214.7 713.0 1217.5 714.5 1220.1 716.0 1222.5 717.4 1224.5 718.9 1226.4 720.5 1228.1 722.0 1229.6 723.6 1230.9 725.2 1232.1 726.8 1233.0 728.5 1233.8 730.1 1234.4 731.8 1234.9 733.5 1235.4 735.2 1235.9 736.9 1236.3 738.7 1236.6 740.4 1236.9 742.1 1237.2 743.9 1237.3 745.7 1237.5 747.7 1237.6 749.7 1237.7 751.8 1237.8 754.0 1237.8 756.3 1237.8 758.8 1237.8 761.2 1237.7 763.9 1237.6 766.7 1237.5 769.7 1237.4 772.8 1237.3 776.0 1237.1 779.4 1237.0 783.0 1236.8 786.7 1236.5 790.4 1236.3 793.9 1236.0 797.4 1235.7 800.9 1235.4 804.2 1235.0 807.5 1234.6 810.8 1234.1 813.9 1233.7 817.1 1233.2 820.2 1232.8 823.4 1232.3 826.5 1231.9 829.7 1231.5 832.8 1231.1 835.9 1230.7 839.1 1230.3 842.3 1229.9 845.5 1229.6 848.9 1229.2 852.3 1228.8 855.9 1228.4 859.5 1228.1 863.1 1227.7 866.9 1227.3 870.5 1227.0 874.1 1226.7 877.5 1226.4 880.9 1226.2 884.1 1226.0 887.3 1225.8 890.4 1225.7 893.3 1225.7 896.3 1225.6 899.4 1225.6 902.5 1225.6 905.6 1225.7 908.8 1225.8 912.0 1225.9 915.2 1226.1 918.5 1226.3 921.8 1226.5 925.2 1226.8 928.7 1227.2 932.2 1227.5 935.8 1227.9 939.4 1228.4 943.1 1228.9 946.9 1229.4 950.8 1230.0 954.8 1230.6 959.1 1231.3 963.4 1231.9 968.0 1232.7 972.7 1233.4 977.5 1234.2 982.5 1235.1 987.5 1235.9 992.5 1236.7 997.5 1237.6 1002.5 1238.4 1007.5 1239.3 1012.5 1240.1 1017.5 1240.9 1022.5 1241.8 1027.4 1242.6 1032.3 1243.4 1037.0 1244.2 1041.7 1244.9 1046.3 1245.6 1050.9 1246.3 1055.3 1247.0 1059.7 1247.7 1064.1 1248.3 1068.5 1249.0 1072.9 1249.6 1077.3 1250.2 1081.8 1250.7 1086.3 1251.3 1090.8 1251.8 1095.2 1252.4 1099.8 1252.9 1104.4 1253.3 1109.0 1253.8 1113.7 1254.2 1118.5 1254.7 1123.2 1255.1 1128.1 1255.4 1132.9 1255.8 1138.0 1256.1 1143.2 1256.4 1148.6 1256.7 1154.2 1256.9 1159.9 1257.1 1165.8 1257.3 1171.9 1257.4 1178.1 1257.6 1185.1 1257.7 1192.8 1257.8 1201.2 1257.8 1210.3 1257.9 1220.2 1258.0 1230.7 1258.0 1242.0 1258.0 1254.0 1258.0 1264.5 1258.0 1273.5 1258.0 1281.0 1258.0 1287.0 1258.0 1291.5 1258.0 1294.5 1258.0 1296.0 1258.0"/>
<path stroke="#ff0000" d="M209.5 992.0 209.5 992.2 209.6 992.8 209.7 993.5 209.8 994.5 210.0 995.8 210.2 997.2 210.4 999.0 210.6 1001.0 210.9 1003.2 211.3 1005.6 211.7 1008.1 212.1 1010.9 212.6 1013.8 213.1 1016.9 213.7 1020.2 214.3 1023.8 215.0 1027.3 215.6 1030.8 216.3 1034.3 217.1 1037.9 217.8 1041.5 218.6 1045.1 219.4 1048.7 220.3 1052.3 221.1 1056.0 221.9 1059.6 222.8 1063.3 223.6 1067.0 224.5 1070.7 225.3 1074.4 226.1 1078.1 227.0 1081.9 227.8 1085.6 228.7 1089.2 229.7 1092.8 230.7 1096.4 231.7 1099.9 232.7 1103.4 233.8 1106.8 234.9 1110.2 236.1 1113.5 237.3 1116.9 238.6 1120.2 239.9 1123.5 241.3 1126.8 242.8 1130.1 244.3 1133.4 245.9 1136.6 247.4 1139.6 248.9 1142.4 250.4 1144.9 251.9 1147.2 253.3 1149.2 254.7 1151.0 256.0 1152.6 257.4 1153.9 258.7 1155.1 260.0 1156.3 261.3 1157.4 262.6 1158.4 263.8 1159.3 265.1 1160.1 266.4 1160.9 267.6 1161.6 268.9 1162.2 270.2 1162.8 271.6 1163.4 272.9 1163.9 274.3 1164.3 275.8 1164.7 277.2 1165.1 278.8 1165.4 280.2 1165.6 281.7 1165.8 283.2 1165.8 284.6 1165.8 286.0 1165.7 287.4 1165.5 288.8 1165.2 290.2 1164.8 291.5 1164.4 292.9 1163.9 294.2 1163.3 295.5 1162.6 296.8 1161.9 298.1 1161.1 299.4 1160.2 300.6 1159.3 301.8 1158.3 303.0 1157.2 304.2 1156.1 305.3 1155.0 306.4 1153.8 307.5 1152.5 308.5 1151.2 309.5 1149.8 310.7 1148.2 312.0 1146.5 313.5 1144.6 315.2 1142.4 317.1 1140.1 319.2 1137.6 321.4 1134.9 323.8 1132.1 326.2 1129.1 328.5 1126.1 330.8 1123.1 333.1 1119.9 335.4 1116.8 337.6 1113.5 339.8 1110.2 342.0 1106.8 344.1 1103.3 346.3 1099.8 348.4 1096.1 350.5 1092.4 352.6 1088.5 354.7 1084.6 356.8 1080.6 358.8 1076.4 360.8 1072.4 362.8 1068.5 364.7 1064.7 366.6 1061.0 368.5 1057.5 370.3 1054.0 372.0 1050.6 373.8 1047.4 375.5 1044.1 377.2 1040.8 378.9 1037.4 380.6 1034.1 382.4 1030.7 384.1 1027.2 385.8 1023.8 387.5 1020.2 389.2 1016.8 390.8 1013.2 392.3 1009.8 393.8 1006.2 395.2 1002.8 396.5 999.2 397.8 995.8 399.1 992.2 400.4 988.7 401.7 985.2 403.1 981.6 404.5 977.9 406.0 974.3 407.6 970.6 409.2 966.9 410.8 963.1 412.5 959.1 414.1 954.7 415.7 950.0 417.3 945.0 418.9 939.7 420.5 934.1 422.1 928.1 423.7 921.9 425.3 915.6 426.9 909.4 428.6 903.1 430.3 896.9 432.1 890.6 433.9 884.4 435.7 878.1 437.5 871.9 439.4 865.6 441.2 859.4 443.1 853.1 444.9 846.9 446.7 840.6 448.6 834.4 450.4 828.1 452.2 821.9 454.0 815.6 455.8 809.4 457.6 803.1 459.4 796.9 461.2 790.6 462.9 784.4 464.7 778.1 466.4 771.9 468.1 765.6 469.8 759.4 471.5 753.1 473.2 746.9 474.8 740.6 476.5 734.4 478.1 728.1 479.7 721.9 481.3 715.6 482.9 709.4 484.5 703.1 486.1 696.9 487.8 690.6 489.4 684.4 491.0 678.1 492.7 671.9 494.1 666.2 495.4 661.2 496.6 656.7 497.5 652.8 498.3 649.6 498.9 646.9 499.4 644.8 499.6 643.3 500.0 641.7 500.4 640.1 500.8 638.3 501.4 636.4 502.0 634.5 502.6 632.4 503.4 630.3 504.1 628.0 504.9 625.9 505.7 623.8 506.5 621.8 507.3 619.9 508.1 618.1 508.8 616.4 509.6 614.8 510.4 613.2 511.2 611.7 512.0 610.3 512.8 608.9 513.6 607.6 514.5 606.3 515.3 605.0 516.2 603.9 517.1 602.7 518.0 601.6 519.0 600.4 519.9 599.2 520.9 598.0 522.0 596.7 523.0 595.4 524.1 594.1 525.3 592.8 526.4 591.4 527.5 590.0 528.6 588.6 529.7 587.2 530.9 585.7 532.0 584.2 533.1 582.7 534.2 581.1 535.3 579.6 536.4 578.1 537.5 576.6 538.7 575.2 539.8 573.8 540.9 572.4 542.0 571.0 543.1 569.7 544.2 568.5 545.2 567.3 546.3 566.3 547.3 565.4 548.2 564.7 549.2 564.0 550.1 563.4 551.0 563.0 551.9 562.6 552.8 562.4 553.7 562.3 554.6 562.3 555.5 562.4 556.4 562.6 557.2 563.0 558.2 563.4 559.0 564.0 559.9 564.7 560.8 565.4 561.6 566.3 562.4 567.3 563.2 568.5 564.0 569.7 564.8 571.0 565.6 572.5 566.4 574.0 567.2 575.7 568.0 577.5 568.9 579.4 569.7 581.4 570.6 583.5 571.5 585.7 572.4 588.1 573.3 590.6 574.2 593.2 575.1 596.0 576.0 598.9 576.9 602.0 577.8 605.2 578.7 608.5 579.5 611.9 580.4 615.2 581.3 618.5 582.1 621.9 582.9 625.2 583.7 628.6 584.5 631.9 585.3 635.3 586.1 638.8 586.9 642.4 587.8 646.2 588.7 650.1 589.6 654.1 590.5 658.3 591.5 662.6 592.5 667.1 593.5 671.5 594.5 676.0 595.6 680.5 596.6 684.9 597.7 689.4 598.8 693.8 599.9 698.3 601.0 702.7 602.1 707.2 603.2 711.6 604.4 716.1 605.5 720.5 606.6 725.0 607.7 729.5 608.8 733.9 610.0 738.4 611.0 742.7 612.1 746.8 613.1 750.8 614.0 754.6 614.9 758.2 615.8 761.6 616.6 764.9 617.4 768.1 618.3 771.8 619.2 776.0 620.3 780.8 621.4 786.2 622.7 792.1 624.0 798.6 625.5 805.7 627.0 813.3 628.6 820.9 630.1 828.5 631.6 836.0 633.1 843.6 634.6 851.1 636.1 858.5 637.6 866.0 639.1 873.4 640.6 881.0 642.1 888.6 643.6 896.4 645.0 904.3 646.5 912.3 648.0 920.4 649.5 928.7 651.0 937.0 652.5 945.5 654.0 954.0 655.5 962.7 656.9 971.4 658.4 980.2 659.9 989.1 661.4 998.1 662.9 1007.2 664.3 1015.9 665.7 1024.2 667.0 1032.0 668.3 1039.4 669.5 1046.4 670.7 1052.9 671.8 1059.0 672.9 1064.7 674.0 1070.5 675.1 1076.4 676.2 1082.4 677.4 1088.5 678.6 1094.7 679.9 1101.0 681.1 1107.3 682.4 1113.8 683.8 1120.2 685.1 1126.5 686.5 1132.7 687.9 1138.7 689.3 1144.6 690.7 1150.4 692.2 1156.1 693.7 1161.7 695.2 1167.1 696.7 1172.3 698.2 1177.4 699.6 1182.3 701.1 1187.1 702.6 1191.7 704.1 1196.1 705.6 1200.4 707.1 1204.4 708.6 1208.1 710.0 1211.5 711.5 1214.7 713.0 1217.5 714.5 1220.1 716.0 1222.5 717.4 1224.5 718.9 1226.4 720.5 1228.1 722.0 1229.6 723.6 1230.9 725.2 1232.1 726.8 1233.0 728.5 1233.8 730.1 1234.4 731.8 1234.9 733.5 1235.4 735.2 1235.9 736.9 1236.3 738.7 1236.6 740.4 1236.9 742.1 1237.2 743.9 1237.3 745.7 1237.5 747.7 1237.6 749.7 1237.7 751.8 1237.8 754.0 1237.8 756.3 1237.8 758.8 1237.8 761.2 1237.7 763.9 1237.6 766.7 1237.5 769.7 1237.4 772.8 1237.3 776.0 1237.1 779.4 1237.0 783.0 1236.8 786.7 1236.5 790.4 1236.3 793.9 1236.0 797.4 1235.7 800.9 1235.4 804.2 1235.0 807.5 1234.6 810.8 1234.1 813.9 1233.7 817.1 1233.2 820.2 1232.8 823.4 1232.3 826.5 1231.9 829.7 1231.5 832.8 1231.1 835.9 1230.7 839.1 1230.3 842.3 1229.9 845.5 1229.6 848.9 1229.2 852.3 1228.8 855.9 1228.4 859.5 1228.1 863.1 1227.7 866.9 1227.3 870.5 1227.0 874.1 1226.7 877.5 1226.4 880.9 1226.2 884.1 1226.0 887.3 1225.8 890.4 1225.7 893.3 1225.7 896.3 1225.6 899.4 1225.6 902.5 1225.6 905.6 1225.7 908.8 1225.8 912.0 1225.9 915.2 1226.1 918.5 1226.3 921.8 1226.5 925.2 1226.8 928.7 1227.2 932.2 1227.5 935.8 1227.9 939.4 1228.4 943.1 1228.9 946.9 1229.4 950.8 1230.0 954.8 1230.6 959.1 1231.3 963.4 1231.9 968.0 1232.7 972.7 1233.4 977.5 1234.2 982.5 1235.1 987.5 1235.9 992.5 1236.7 997.5 1237.6 1002.5 1238.4 1007.5 1239.3 1012.5 1240.1 1017.5 1240.9 1022.5 1241.8 1027.4 1242.6 1032.3 1243.4 1037.0 1244.2 1041.7 1244.9 1046.3 1245.6 1050.9 1246.3 1055.3 1247.0 1059.7 1247.7 1064.1 1248.3 1068.5 1249.0 1072.9 1249.6 1077.3 1250.2 1081.8 1250.7 1086.3 1251.3 1090.8 1251.8 1095.2 1252.4 1099.8 1252.9 1104.4 1253.3 1109.0 1253.8 1113.7 1254.2 1118.5 1254.7 1123.2 1255.1 1128.1 1255.4 1132.9 1255.8 1138.0 1256.1 1143.2 1256.4 1148.6 1256.7 1154.2 1256.9 1159.9 1257.1 1165.8 1257.3 1171.9 1257.4 1178.1 1257.6 1185.1 1257.7 1192.8 1257.8 1201.2 1257.8 1210.3 1257.9 1220.2 1258.0 1230.7 1258.0 1242.0 1258.0 1254.0 1258.0 1264.5 1258.0 1273.5 1258.0 1281.0 1258.0 1287.0 1258.0 1291.5 1258.0 1294.5 1258.0 1296.0 1258.0"/>
<path stroke="#0000ff" stroke-opacity="0.3" stroke-width="5.8" d="M209.5 947.0 209.5 947.0 209.6 947.1 209.6 947.3 209.7 947.5 209.9 947.7 210.0 948.0 210.2 948.3 210.3 948.7 210.6 949.5 210.8 950.7 211.1 952.3 211.4 954.4 211.8 956.9 212.1 959.8 212.5 963.1 213.0 966.9 213.4 970.6 214.0 974.3 214.5 977.9 215.1 981.6 215.7 985.2 216.4 988.7 217.1 992.2 217.9 995.8 218.6 999.2 219.4 1002.8 220.2 1006.2 221.0 1009.8 221.9 1013.2 222.7 1016.8 223.6 1020.2 224.4 1023.8 225.3 1027.3 226.3 1030.8 227.2 1034.3 228.2 1037.9 229.2 1041.5 230.2 1045.1 231.2 1048.7 232.3 1052.3 233.4 1056.0 234.6 1059.6 235.8 1063.3 237.0 1067.0 238.3 1070.7 239.7 1074.4 241.1 1078.1 242.6 1081.9 244.1 1085.6 245.6 1089.2 247.1 1092.8 248.6 1096.4 250.2 1099.9 251.8 1103.4 253.4 1106.8 255.0 1110.2 256.7 1113.3 258.3 1116.2 260.0 1118.9 261.7 1121.3 263.4 1123.5 265.2 1125.5 267.0 1127.2 268.7 1128.8 270.5 1130.1 272.2 1131.4 273.8 1132.5 275.4 1133.6 276.9 1134.5 278.4 1135.3 279.8 1136.0 281.2 1136.5 282.5 1137.0 283.8 1137.5 285.0 1137.8 286.2 1138.2 287.4 1138.4 288.5 1138.6 289.5 1138.7 290.5 1138.8 291.5 1138.8 292.6 1138.6 293.8 1138.5 295.0 1138.2 296.2 1137.8 297.5 1137.4 298.8 1136.8 300.2 1136.2 301.6 1135.5 303.0 1134.6 304.4 1133.7 305.9 1132.6 307.4 1131.4 308.9 1130.1 310.4 1128.8 311.9 1127.2 313.5 1125.5 315.2 1123.5 317.0 1121.3 318.9 1118.9 320.8 1116.2 322.9 1113.3 325.0 1110.2 327.1 1106.8 329.3 1103.4 331.5 1099.9 333.6 1096.4 335.7 1092.8 337.8 1089.2 339.8 1085.6 341.8 1081.9 343.9 1078.1 345.9 1074.4 347.9 1070.7 350.0 1067.0 352.1 1063.3 354.2 1059.6 356.4 1056.0 358.5 1052.3 360.7 1048.7 362.8 1045.1 364.9 1041.5 367.0 1037.9 369.1 1034.3 371.1 1030.8 373.1 1027.3 375.1 1023.8 377.0 1020.2 378.9 1016.8 380.8 1013.2 382.6 1009.8 384.4 1006.2 386.1 1002.8 387.8 999.2 389.5 995.8 391.1 992.2 392.8 988.7 394.5 985.2 396.2 981.6 397.9 977.9 399.7 974.3 401.5 970.6 403.4 966.9 405.2 963.1 407.0 959.5 408.8 955.9 410.4 952.3 412.0 948.9 413.5 945.5 414.9 942.3 416.3 939.1 417.5 935.9 418.8 932.8 420.2 929.7 421.5 926.6 422.9 923.4 424.3 920.3 425.7 917.2 427.1 914.1 428.6 910.9 430.2 907.4 431.9 903.5 433.7 899.2 435.7 894.5 437.8 889.5 440.0 884.0 442.4 878.1 444.8 871.9 447.3 865.6 449.8 859.4 452.2 853.1 454.7 846.9 457.1 840.6 459.6 834.4 462.0 828.1 464.4 821.9 466.8 815.6 469.2 809.4 471.6 803.1 473.9 796.9 476.2 790.6 478.5 784.4 480.8 778.1 483.0 771.9 485.2 766.1 487.2 760.7 489.0 755.8 490.8 751.2 492.4 747.2 493.9 743.6 495.3 740.4 496.6 737.6 497.8 735.1 498.9 732.7 499.9 730.5 500.8 728.4 501.7 726.6 502.5 724.9 503.2 723.4 503.8 722.1 504.4 720.8 505.0 719.6 505.7 718.4 506.3 717.2 506.9 716.1 507.5 715.0 508.1 714.0 508.6 713.0 509.3 712.1 509.9 711.2 510.5 710.3 511.2 709.5 511.9 708.8 512.6 708.1 513.3 707.5 514.1 707.0 514.8 706.4 515.6 705.9 516.4 705.4 517.2 705.0 518.0 704.6 518.8 704.2 519.6 703.8 520.5 703.5 521.5 703.0 522.6 702.4 523.9 701.7 525.3 700.8 526.8 699.9 528.5 698.8 530.4 697.5 532.4 696.2 534.4 694.8 536.3 693.5 538.2 692.2 540.1 690.9 541.9 689.7 543.7 688.4 545.4 687.2 547.2 686.0 548.8 685.0 550.4 684.3 551.9 683.9 553.3 683.7 554.6 683.7 555.9 684.0 557.1 684.5 558.2 685.3 559.3 686.2 560.4 687.1 561.4 688.2 562.4 689.4 563.4 690.6 564.3 692.0 565.2 693.5 566.2 695.0 567.1 696.7 568.0 698.4 568.9 700.2 569.9 702.1 570.8 704.1 571.8 706.1 572.8 708.3 573.8 710.5 574.8 712.9 575.8 715.4 576.8 718.0 577.8 720.8 578.8 723.7 579.8 726.8 580.8 730.0 581.8 733.4 582.8 736.8 583.9 740.4 585.1 744.1 586.2 747.9 587.4 751.8 588.7 755.8 590.0 759.9 591.3 764.2 592.6 768.4 593.9 772.5 595.2 776.6 596.4 780.7 597.6 784.7 598.8 788.6 599.9 792.6 601.1 796.4 602.2 800.3 603.3 804.1 604.4 808.0 605.4 811.8 606.5 815.6 607.5 819.4 608.5 823.1 609.6 826.9 610.6 830.7 611.6 834.5 612.6 838.4 613.6 842.3 614.6 846.3 615.6 850.4 616.6 854.4 617.5 858.6 618.5 862.7 619.5 866.9 620.6 871.0 621.6 875.2 622.6 879.4 623.6 883.6 624.7 887.8 625.7 892.1 626.9 896.7 628.1 901.7 629.5 907.2 630.9 913.0 632.5 919.2 634.2 925.9 635.9 932.9 637.8 940.3 639.6 947.9 641.5 955.8 643.4 963.8 645.2 972.1 647.1 980.6 649.0 989.3 650.8 998.1 652.7 1007.2 654.5 1016.2 656.3 1024.9 658.1 1033.4 659.8 1041.7 661.5 1049.8 663.2 1057.7 664.8 1065.5 666.5 1073.0 668.1 1080.4 669.6 1087.7 671.2 1094.9 672.8 1101.9 674.3 1108.8 675.8 1115.5 677.3 1122.2 678.8 1128.7 680.3 1134.9 681.8 1141.0 683.3 1146.8 684.7 1152.3 686.2 1157.7 687.7 1162.8 689.2 1167.7 690.7 1172.3 692.2 1176.8 693.7 1181.2 695.3 1185.4 696.9 1189.5 698.5 1193.5 700.1 1197.3 701.8 1200.9 703.4 1204.5 705.2 1207.8 706.9 1210.8 708.7 1213.6 710.6 1216.2 712.5 1218.6 714.4 1220.8 716.4 1222.7 718.5 1224.3 720.5 1225.8 722.6 1227.2 724.7 1228.3 726.9 1229.3 729.0 1230.1 731.2 1230.7 733.4 1231.2 735.6 1231.4 737.9 1231.6 740.3 1231.7 742.7 1231.7 745.2 1231.6 747.8 1231.4 750.4 1231.2 753.2 1230.8 755.9 1230.3 758.6 1229.9 761.1 1229.4 763.5 1229.0 765.7 1228.6 767.8 1228.2 769.7 1227.8 771.6 1227.4 773.2 1227.0 775.2 1226.5 777.4 1225.8 779.9 1224.9 782.7 1223.8 785.7 1222.6 789.0 1221.3 792.6 1219.7 796.5 1218.0 800.5 1216.3 804.6 1214.6 808.9 1213.0 813.4 1211.4 817.9 1209.8 822.6 1208.3 827.5 1206.8 832.5 1205.2 837.3 1203.8 842.0 1202.4 846.6 1201.1 850.9 1199.9 855.2 1198.7 859.2 1197.6 863.1 1196.5 866.9 1195.5 870.5 1194.6 874.1 1193.7 877.5 1192.9 880.9 1192.2 884.1 1191.6 887.3 1191.0 890.4 1190.5 893.3 1190.0 896.3 1189.7 899.4 1189.3 902.5 1189.1 905.6 1188.9 908.8 1188.8 912.0 1188.7 915.2 1188.7 918.5 1188.8 921.8 1188.9 925.2 1189.1 928.7 1189.4 932.2 1189.8 935.8 1190.3 939.4 1190.8 943.1 1191.4 946.9 1192.1 950.8 1192.8 954.8 1193.7 959.1 1194.5 963.4 1195.5 968.0 1196.5 972.7 1197.5 977.5 1198.7 982.5 1199.8 987.5 1201.1 992.5 1202.4 997.5 1203.7 1002.5 1205.1 1007.5 1206.6 1012.5 1208.1 1017.5 1209.7 1022.5 1211.3 1027.4 1212.9 1032.3 1214.4 1037.0 1215.9 1041.7 1217.3 1046.3 1218.7 1050.9 1220.1 1055.3 1221.4 1059.7 1222.6 1064.1 1223.9 1068.5 1225.1 1072.9 1226.2 1077.3 1227.4 1081.8 1228.5 1086.3 1229.6 1090.8 1230.7 1095.2 1231.8 1099.8 1232.8 1104.4 1233.9 1109.0 1234.9 1113.7 1235.9 1118.5 1236.9 1123.2 1237.8 1128.1 1238.8 1132.9 1239.7 1138.0 1240.6 1143.2 1241.5 1148.6 1242.4 1154.2 1243.3 1159.9 1244.2 1165.8 1245.0 1171.9 1245.8 1178.1 1246.7 1184.4 1247.4 1190.6 1248.2 1196.9 1248.9 1203.1 1249.6 1209.4 1250.2 1215.6 1250.9 1221.9 1251.5 1228.1 1252.0 1234.3 1252.6 1240.4 1253.0 1246.5 1253.5 1252.5 1253.9 1258.4 1254.3 1264.3 1254.6 1270.1 1254.9 1275.9 1255.1 1280.9 1255.3 1285.2 1255.5 1288.8 1255.7 1291.7 1255.8 1293.8 1255.9 1295.3 1256.0 1296.0 1256.0"/>
<path stroke="#0000ff" d="M209.5 947.0 209.5 947.0 209.6 947.1 209.6 947.3 209.7 947.5 209.9 947.7 210.0 948.0 210.2 948.3 210.3 948.7 210.6 949.5 210.8 950.7 211.1 952.3 211.4 954.4 211.8 956.9 212.1 959.8 212.5 963.1 213.0 966.9 213.4 970.6 214.0 974.3 214.5 977.9 215.1 981.6 215.7 985.2 216.4 988.7 217.1 992.2 217.9 995.8 218.6 999.2 219.4 1002.8 220.2 1006.2 221.0 1009.8 221.9 1013.2 222.7 1016.8 223.6 1020.2 224.4 1023.8 225.3 1027.3 226.3 1030.8 227.2 1034.3 228.2 1037.9 229.2 1041.5 230.2 1045.1 231.2 1048.7 232.3 1052.3 233.4 1056.0 234.6 1059.6 235.8 1063.3 237.0 1067.0 238.3 1070.7 239.7 1074.4 241.1 1078.1 242.6 1081.9 244.1 1085.6 245.6 1089.2 247.1 1092.8 248.6 1096.4 250.2 1099.9 251.8 1103.4 253.4 1106.8 255.0 1110.2 256.7 1113.3 258.3 1116.2 260.0 1118.9 261.7 1121.3 263.4 1123.5 265.2 1125.5 267.0 1127.2 268.7 1128.8 270.5 1130.1 272.2 1131.4 273.8 1132.5 275.4 1133.6 276.9 1134.5 278.4 1135.3 279.8 1136.0 281.2 1136.5 282.5 1137.0 283.8 1137.5 285.0 1137.8 286.2 1138.2 287.4 1138.4 288.5 1138.6 289.5 1138.7 290.5 1138.8 291.5 1138.8 292.6 1138.6 293.8 1138.5 295.0 1138.2 296.2 1137.8 297.5 1137.4 298.8 1136.8 300.2 1136.2 301.6 1135.5 303.0 1134.6 304.4 1133.7 305.9 1132.6 307.4 1131.4 308.9 1130.1 310.4 1128.8 311.9 1127.2 313.5 1125.5 315.2 1123.5 317.0 1121.3 318.9 1118.9 320.8 1116.2 322.9 1113.3 325.0 1110.2 327.1 1106.8 329.3 1103.4 331.5 1099.9 333.6 1096.4 335.7 1092.8 337.8 1089.2 339.8 1085.6 341.8 1081.9 343.9 1078.1 345.9 1074.4 347.9 1070.7 350.0 1067.0 352.1 1063.3 354.2 1059.6 356.4 1056.0 358.5 1052.3 360.7 1048.7 362.8 1045.1 364.9 1041.5 367.0 1037.9 369.1 1034.3 371.1 1030.8 373.1 1027.3 375.1 1023.8 377.0 1020.2 378.9 1016.8 380.8 1013.2 382.6 1009.8 384.4 1006.2 386.1 1002.8 387.8 999.2 389.5 995.8 391.1 992.2 392.8 988.7 394.5 985.2 396.2 981.6 397.9 977.9 399.7 974.3 401.5 970.6 403.4 966.9 405.2 963.1 407.0 959.5 408.8 955.9 410.4 952.3 412.0 948.9 413.5 945.5 414.9 942.3 416.3 939.1 417.5 935.9 418.8 932.8 420.2 929.7 421.5 926.6 422.9 923.4 424.3 920.3 425.7 917.2 427.1 914.1 428.6 910.9 430.2 907.4 431.9 903.5 433.7 899.2 435.7 894.5 437.8 889.5 440.0 884.0 442.4 878.1 444.8 871.9 447.3 865.6 449.8 859.4 452.2 853.1 454.7 846.9 457.1 840.6 459.6 834.4 462.0 828.1 464.4 821.9 466.8 815.6 469.2 809.4 471.6 803.1 473.9 796.9 476.2 790.6 478.5 784.4 480.8 778.1 483.0 771.9 485.2 766.1 487.2 760.7 489.0 755.8 490.8 751.2 492.4 747.2 493.9 743.6 495.3 740.4 496.6 737.6 497.8 735.1 498.9 732.7 499.9 730.5 500.8 728.4 501.7 726.6 502.5 724.9 503.2 723.4 503.8 722.1 504.4 720.8 505.0 719.6 505.7 718.4 506.3 717.2 506.9 716.1 507.5 715.0 508.1 714.0 508.6 713.0 509.3 712.1 509.9 711.2 510.5 710.3 511.2 709.5 511.9 708.8 512.6 708.1 513.3 707.5 514.1 707.0 514.8 706.4 515.6 705.9 516.4 705.4 517.2 705.0 518.0 704.6 518.8 704.2 519.6 703.8 520.5 703.5 521.5 703.0 522.6 702.4 523.9 701.7 525.3 700.8 526.8 699.9 528.5 698.8 530.4 697.5 532.4 696.2 534.4 694.8 536.3 693.5 538.2 692.2 540.1 690.9 541.9 689.7 543.7 688.4 545.4 687.2 547.2 686.0 548.8 685.0 550.4 684.3 551.9 683.9 553.3 683.7 554.6 683.7 555.9 684.0 557.1 684.5 558.2 685.3 559.3 686.2 560.4 687.1 561.4 688.2 562.4 689.4 563.4 690.6 564.3 692.0 565.2 693.5 566.2 695.0 567.1 696.7 568.0 698.4 568.9 700.2 569.9 702.1 570.8 704.1 571.8 706.1 572.8 708.3 573.8 710.5 574.8 712.9 575.8 715.4 576.8 718.0 577.8 720.8 578.8 723.7 579.8 726.8 580.8 730.0 581.8 733.4 582.8 736.8 583.9 740.4 585.1 744.1 586.2 747.9 587.4 751.8 588.7 755.8 590.0 759.9 591.3 764.2 592.6 768.4 593.9 772.5 595.2 776.6 596.4 780.7 597.6 784.7 598.8 788.6 599.9 792.6 601.1 796.4 602.2 800.3 603.3 804.1 604.4 808.0 605.4 811.8 606.5 815.6 607.5 819.4 608.5 823.1 609.6 826.9 610.6 830.7 611.6 834.5 612.6 838.4 613.6 842.3 614.6 846.3 615.6 850.4 616.6 854.4 617.5 858.6 618.5 862.7 619.5 866.9 620.6 871.0 621.6 875.2 622.6 879.4 623.6 883.6 624.7 887.8 625.7 892.1 626.9 896.7 628.1 901.7 629.5 907.2 630.9 913.0 632.5 919.2 634.2 925.9 635.9 932.9 637.8 940.3 639.6 947.9 641.5 955.8 643.4 963.8 645.2 972.1 647.1 980.6 649.0 989.3 650.8 998.1 652.7 1007.2 654.5 1016.2 656.3 1024.9 658.1 1033.4 659.8 1041.7 661.5 1049.8 663.2 1057.7 664.8 1065.5 666.5 1073.0 668.1 1080.4 669.6 1087.7 671.2 1094.9 672.8 1101.9 674.3 1108.8 675.8 1115.5 677.3 1122.2 678.8 1128.7 680.3 1134.9 681.8 1141.0 683.3 1146.8 684.7 1152.3 686.2 1157.7 687.7 1162.8 689.2 1167.7 690.7 1172.3 692.2 1176.8 693.7 1181.2 695.3 1185.4 696.9 1189.5 698.5 1193.5 700.1 1197.3 701.8 1200.9 703.4 1204.5 705.2 1207.8 706.9 1210.8 708.7 1213.6 710.6 1216.2 712.5 1218.6 714.4 1220.8 716.4 1222.7 718.5 1224.3 720.5 1225.8 722.6 1227.2 724.7 1228.3 726.9 1229.3 729.0 1230.1 731.2 1230.7 733.4 1231.2 735.6 1231.4 737.9 1231.6 740.3 1231.7 742.7 1231.7 745.2 1231.6 747.8 1231.4 750.4 1231.2 753.2 1230.8 755.9 1230.3 758.6 1229.9 761.1 1229.4 763.5 1229.0 765.7 1228.6 767.8 1228.2 769.7 1227.8 771.6 1227.4 773.2 1227.0 775.2 1226.5 777.4 1225.8 779.9 1224.9 782.7 1223.8 785.7 1222.6 789.0 1221.3 792.6 1219.7 796.5 1218.0 800.5 1216.3 804.6 1214.6 808.9 1213.0 813.4 1211.4 817.9 1209.8 822.6 1208.3 827.5 1206.8 832.5 1205.2 837.3 1203.8 842.0 1202.4 846.6 1201.1 850.9 1199.9 855.2 1198.7 859.2 1197.6 863.1 1196.5 866.9 1195.5 870.5 1194.6 874.1 1193.7 877.5 1192.9 880.9 1192.2 884.1 1191.6 887.3 1191.0 890.4 1190.5 893.3 1190.0 896.3 1189.7 899.4 1189.3 902.5 1189.1 905.6 1188.9 908.8 1188.8 912.0 1188.7 915.2 1188.7 918.5 1188.8 921.8 1188.9 925.2 1189.1 928.7 1189.4 932.2 1189.8 935.8 1190.3 939.4 1190.8 943.1 1191.4 946.9 1192.1 950.8 1192.8 954.8 1193.7 959.1 1194.5 963.4 1195.5 968.0 1196.5 972.7 1197.5 977.5 1198.7 982.5 1199.8 987.5 1201.1 992.5 1202.4 997.5 1203.7 1002.5 1205.1 1007.5 1206.6 1012.5 1208.1 1017.5 1209.7 1022.5 1211.3 1027.4 1212.9 1032.3 1214.4 1037.0 1215.9 1041.7 1217.3 1046.3 1218.7 1050.9 1220.1 1055.3 1221.4 1059.7 1222.6 1064.1 1223.9 1068.5 1225.1 1072.9 1226.2 1077.3 1227.4 1081.8 1228.5 1086.3 1229.6 1090.8 1230.7 1095.2 1231.8 1099.8 1232.8 1104.4 1233.9 1109.0 1234.9 1113.7 1235.9 1118.5 1236.9 1123.2 1237.8 1128.1 1238.8 1132.9 1239.7 1138.0 1240.6 1143.2 1241.5 1148.6 1242.4 1154.2 1243.3 1159.9 1244.2 1165.8 1245.0 1171.9 1245.8 1178.1 1246.7 1184.4 1247.4 1190.6 1248.2 1196.9 1248.9 1203.1 1249.6 1209.4 1250.2 1215.6 1250.9 1221.9 1251.5 1228.1 1252.0 1234.3 1252.6 1240.4 1253.0 1246.5 1253.5 1252.5 1253.9 1258.4 1254.3 1264.3 1254.6 1270.1 1254.9 1275.9 1255.1 1280.9 1255.3 1285.2 1255.5 1288.8 1255.7 1291.7 1255.8 1293.8 1255.9 1295.3 1256.0 1296.0 1256.0"/>
<path stroke="#008000" stroke-opacity="0.3" stroke-width="5.8" d="M209.5 903.0 209.5 903.0 209.6 903.1 209.7 903.2 209.8 903.4 209.9 903.6 210.1 903.8 210.3 904.1 210.6 904.4 210.8 904.9 211.1 905.4 211.5 906.2 211.9 907.0 212.3 908.0 212.7 909.1 213.2 910.4 213.7 911.7 214.2 913.1 214.8 914.5 215.4 915.9 216.0 917.3 216.6 918.7 217.3 920.1 218.0 921.5 218.6 922.8 219.3 924.2 220.0 925.6 220.7 927.0 221.4 928.4 222.0 929.8 222.7 931.2 223.3 932.6 223.9 933.9 224.5 935.3 225.2 936.7 225.8 938.1 226.4 939.5 227.1 940.9 227.7 942.3 228.3 943.7 229.0 945.1 229.7 946.8 230.6 948.8 231.5 951.1 232.6 953.6 233.7 956.5 235.0 959.7 236.4 963.1 237.8 966.9 239.3 970.6 240.7 974.3 242.0 977.9 243.3 981.6 244.6 985.2 245.8 988.7 246.9 992.2 248.1 995.8 249.2 999.2 250.3 1002.8 251.4 1006.2 252.5 1009.8 253.6 1013.2 254.6 1016.8 255.7 1020.2 256.8 1023.8 257.8 1027.3 258.9 1030.8 260.0 1034.3 261.0 1037.9 262.1 1041.5 263.2 1045.1 264.2 1048.7 265.3 1052.3 266.4 1055.9 267.6 1059.6 268.9 1063.2 270.3 1066.8 271.8 1070.4 273.3 1074.1 274.9 1077.7 276.6 1081.3 278.2 1084.6 279.6 1087.4 281.0 1089.9 282.2 1092.1 283.4 1093.8 284.4 1095.2 285.3 1096.2 286.2 1096.8 287.0 1097.4 287.8 1097.9 288.7 1098.4 289.6 1098.8 290.5 1099.2 291.4 1099.6 292.3 1099.9 293.2 1100.1 294.2 1100.3 295.1 1100.5 296.0 1100.5 297.0 1100.6 297.9 1100.6 298.8 1100.5 299.8 1100.3 300.7 1100.2 301.6 1099.9 302.5 1099.7 303.3 1099.4 304.1 1099.1 304.8 1098.8 305.5 1098.4 306.2 1098.0 306.8 1097.5 307.4 1097.1 308.0 1096.7 308.6 1096.3 309.2 1095.9 309.7 1095.5 310.2 1095.1 310.8 1094.7 311.2 1094.3 312.0 1093.5 313.0 1092.4 314.2 1090.8 315.6 1088.9 317.3 1086.6 319.2 1083.9 321.3 1080.8 323.7 1077.2 326.1 1073.7 328.5 1070.2 330.9 1066.7 333.3 1063.1 335.8 1059.5 338.3 1055.9 340.8 1052.3 343.2 1048.7 345.6 1045.3 347.9 1042.0 350.1 1039.0 352.2 1036.2 354.1 1033.6 356.0 1031.2 357.7 1029.0 359.3 1027.0 360.9 1025.1 362.5 1023.2 364.0 1021.4 365.6 1019.6 367.1 1017.9 368.5 1016.3 370.0 1014.8 371.4 1013.2 372.8 1011.8 374.1 1010.4 375.3 1009.1 376.5 1007.8 377.6 1006.6 378.7 1005.4 379.7 1004.3 380.7 1003.2 381.7 1002.2 382.7 1001.1 383.8 1000.0 385.0 999.0 386.2 997.9 387.5 996.8 388.8 995.8 390.2 994.7 391.5 993.7 392.9 992.8 394.2 992.0 395.5 991.2 396.8 990.6 398.1 990.0 399.4 989.5 400.6 989.0 401.9 988.6 403.1 988.2 404.4 987.9 405.6 987.6 406.9 987.3 408.1 987.0 409.4 986.8 410.6 986.5 411.9 986.4 413.1 986.3 414.4 986.2 415.6 986.1 416.9 986.2 418.1 986.2 419.4 986.3 420.6 986.5 422.0 986.7 423.4 987.1 424.8 987.6 426.4 988.2 428.0 988.9 429.8 989.7 431.6 990.6 433.4 991.6 435.4 992.8 437.5 994.3 439.7 995.9 442.0 997.7 444.4 999.7 447.0 1001.9 449.6 1004.3 452.3 1006.9 455.1 1009.5 457.8 1012.2 460.6 1014.8 463.3 1017.5 466.1 1020.3 468.9 1023.0 471.7 1025.8 474.4 1028.5 477.1 1031.3 479.7 1034.1 482.1 1036.8 484.4 1039.6 486.6 1042.3 488.7 1045.1 490.7 1047.8 492.5 1050.5 494.4 1053.1 496.2 1055.7 498.1 1058.1 500.0 1060.5 501.8 1062.7 503.7 1064.9 505.6 1067.0 507.4 1069.0 509.3 1071.0 511.2 1073.0 513.0 1075.1 514.9 1077.1 516.7 1079.2 518.6 1081.2 520.4 1083.3 522.3 1085.4 524.1 1087.5 525.9 1089.6 527.7 1091.6 529.6 1093.7 531.4 1095.7 533.2 1097.8 535.0 1099.8 536.7 1101.9 538.5 1103.9 540.4 1105.9 542.2 1108.0 544.1 1110.0 545.9 1112.1 547.8 1114.1 549.7 1116.2 551.7 1118.2 553.5 1120.2 555.3 1122.1 557.1 1123.8 558.8 1125.5 560.4 1127.1 562.0 1128.6 563.5 1130.0 564.9 1131.4 566.4 1132.6 567.8 1133.9 569.1 1135.1 570.5 1136.3 571.8 1137.4 573.1 1138.5 574.4 1139.5 575.6 1140.5 576.9 1141.6 578.3 1142.8 579.8 1144.1 581.3 1145.4 582.8 1146.9 584.5 1148.5 586.2 1150.1 587.9 1151.9 589.7 1153.6 591.5 1155.3 593.4 1157.0 595.2 1158.7 597.1 1160.3 599.0 1162.0 600.9 1163.6 602.9 1165.2 604.7 1166.8 606.4 1168.4 608.0 1169.9 609.4 1171.4 610.7 1173.0 611.9 1174.5 612.9 1176.0 613.9 1177.4 614.8 1178.8 615.9 1180.2 617.0 1181.4 618.1 1182.6 619.3 1183.8 620.6 1184.8 621.9 1185.8 623.2 1186.8 624.6 1187.7 626.0 1188.6 627.4 1189.5 628.8 1190.5 630.2 1191.4 631.6 1192.3 633.0 1193.3 634.4 1194.2 635.9 1195.3 637.4 1196.4 639.0 1197.7 640.7 1199.1 642.4 1200.5 644.1 1202.1 645.9 1203.8 647.8 1205.7 649.7 1207.4 651.5 1209.2 653.4 1211.0 655.4 1212.7 657.3 1214.4 659.2 1216.0 661.2 1217.7 663.1 1219.3 665.1 1220.9 667.0 1222.4 668.9 1223.9 670.7 1225.3 672.5 1226.7 674.3 1228.0 676.1 1229.2 677.9 1230.5 679.5 1231.6 681.1 1232.6 682.5 1233.6 683.8 1234.5 685.1 1235.3 686.2 1236.1 687.2 1236.8 688.2 1237.3 689.2 1237.9 690.3 1238.5 691.5 1239.1 692.8 1239.6 694.2 1240.1 695.7 1240.7 697.3 1241.2 699.1 1241.7 700.8 1242.2 702.6 1242.6 704.4 1243.0 706.3 1243.4 708.2 1243.8 710.1 1244.1 712.1 1244.3 714.1 1244.6 716.1 1244.8 718.1 1244.9 720.0 1245.0 721.8 1245.1 723.7 1245.1 725.5 1245.1 727.2 1245.0 729.0 1244.9 730.7 1244.7 732.5 1244.5 734.2 1244.3 736.1 1244.0 737.9 1243.7 739.7 1243.4 741.6 1243.0 743.4 1242.5 745.5 1242.0 747.7 1241.5 750.0 1240.9 752.5 1240.2 755.2 1239.5 758.0 1238.8 760.9 1237.9 764.1 1237.1 767.2 1236.2 770.3 1235.3 773.4 1234.3 776.6 1233.4 779.7 1232.5 782.8 1231.5 785.9 1230.5 789.1 1229.5 792.2 1228.5 795.3 1227.5 798.4 1226.4 801.6 1225.3 804.7 1224.3 807.8 1223.2 810.9 1222.1 814.1 1220.9 817.2 1219.8 820.3 1218.8 823.4 1217.8 826.6 1216.8 829.7 1215.8 832.8 1214.8 835.9 1213.9 839.1 1213.1 842.3 1212.2 845.5 1211.3 848.9 1210.4 852.3 1209.6 855.9 1208.7 859.5 1207.8 863.1 1206.9 866.9 1206.1 870.5 1205.3 874.1 1204.5 877.5 1203.8 880.9 1203.2 884.1 1202.6 887.3 1202.2 890.4 1201.7 893.3 1201.4 896.3 1201.1 899.4 1200.8 902.5 1200.6 905.6 1200.4 908.8 1200.3 912.0 1200.3 915.2 1200.3 918.5 1200.3 921.8 1200.4 925.2 1200.6 928.7 1200.8 932.2 1201.1 935.8 1201.4 939.4 1201.8 943.1 1202.3 946.9 1202.8 950.8 1203.4 954.8 1204.0 959.1 1204.7 963.4 1205.5 968.0 1206.4 972.7 1207.3 977.5 1208.3 982.5 1209.3 987.5 1210.4 992.5 1211.6 997.5 1212.9 1002.5 1214.2 1007.5 1215.6 1012.5 1217.0 1017.5 1218.6 1022.5 1220.1 1027.4 1221.7 1032.3 1223.1 1037.0 1224.5 1041.7 1225.8 1046.3 1227.1 1050.9 1228.2 1055.3 1229.3 1059.7 1230.4 1064.1 1231.4 1068.5 1232.4 1072.9 1233.5 1077.3 1234.5 1081.8 1235.5 1086.3 1236.5 1090.8 1237.5 1095.2 1238.5 1099.8 1239.5 1104.4 1240.5 1109.0 1241.4 1113.7 1242.3 1118.5 1243.3 1123.2 1244.2 1128.1 1245.1 1132.9 1245.9 1138.0 1246.8 1143.2 1247.6 1148.6 1248.3 1154.2 1249.0 1159.9 1249.7 1165.8 1250.4 1171.9 1251.0 1178.1 1251.5 1184.4 1252.1 1190.6 1252.6 1196.9 1253.0 1203.1 1253.5 1209.4 1253.9 1215.6 1254.2 1221.9 1254.6 1228.1 1254.9 1234.3 1255.2 1240.4 1255.5 1246.5 1255.7 1252.5 1255.9 1258.4 1256.1 1264.3 1256.3 1270.1 1256.4 1275.9 1256.6 1280.9 1256.7 1285.2 1256.8 1288.8 1256.8 1291.7 1256.9 1293.8 1257.0 1295.3 1257.0 1296.0 1257.0"/>
<path stroke="#008000" d="M209.5 903.0 209.5 903.0 209.6 903.1 209.7 903.2 209.8 903.4 209.9 903.6 210.1 903.8 210.3 904.1 210.6 904.4 210.8 904.9 211.1 905.4 211.5 906.2 211.9 907.0 212.3 908.0 212.7 909.1 213.2 910.4 213.7 911.7 214.2 913.1 214.8 914.5 215.4 915.9 216.0 917.3 216.6 918.7 217.3 920.1 218.0 921.5 218.6 922.8 219.3 924.2 220.0 925.6 220.7 927.0 221.4 928.4 222.0 929.8 222.7 931.2 223.3 932.6 223.9 933.9 224.5 935.3 225.2 936.7 225.8 938.1 226.4 939.5 227.1 940.9 227.7 942.3 228.3 943.7 229.0 945.1 229.7 946.8 230.6 948.8 231.5 951.1 232.6 953.6 233.7 956.5 235.0 959.7 236.4 963.1 237.8 966.9 239.3 970.6 240.7 974.3 242.0 977.9 243.3 981.6 244.6 985.2 245.8 988.7 246.9 992.2 248.1 995.8 249.2 999.2 250.3 1002.8 251.4 1006.2 252.5 1009.8 253.6 1013.2 254.6 1016.8 255.7 1020.2 256.8 1023.8 257.8 1027.3 258.9 1030.8 260.0 1034.3 261.0 1037.9 262.1 1041.5 263.2 1045.1 264.2 1048.7 265.3 1052.3 266.4 1055.9 267.6 1059.6 268.9 1063.2 270.3 1066.8 271.8 1070.4 273.3 1074.1 274.9 1077.7 276.6 1081.3 278.2 1084.6 279.6 1087.4 281.0 1089.9 282.2 1092.1 283.4 1093.8 284.4 1095.2 285.3 1096.2 286.2 1096.8 287.0 1097.4 287.8 1097.9 288.7 1098.4 289.6 1098.8 290.5 1099.2 291.4 1099.6 292.3 1099.9 293.2 1100.1 294.2 1100.3 295.1 1100.5 296.0 1100.5 297.0 1100.6 297.9 1100.6 298.8 1100.5 299.8 1100.3 300.7 1100.2 301.6 1099.9 302.5 1099.7 303.3 1099.4 304.1 1099.1 304.8 1098.8 305.5 1098.4 306.2 1098.0 306.8 1097.5 307.4 1097.1 308.0 1096.7 308.6 1096.3 309.2 1095.9 309.7 1095.5 310.2 1095.1 310.8 1094.7 311.2 1094.3 312.0 1093.5 313.0 1092.4 314.2 1090.8 315.6 1088.9 317.3 1086.6 319.2 1083.9 321.3 1080.8 323.7 1077.2 326.1 1073.7 328.5 1070.2 330.9 1066.7 333.3 1063.1 335.8 1059.5 338.3 1055.9 340.8 1052.3 343.2 1048.7 345.6 1045.3 347.9 1042.0 350.1 1039.0 352.2 1036.2 354.1 1033.6 356.0 1031.2 357.7 1029.0 359.3 1027.0 360.9 1025.1 362.5 1023.2 364.0 1021.4 365.6 1019.6 367.1 1017.9 368.5 1016.3 370.0 1014.8 371.4 1013.2 372.8 1011.8 374.1 1010.4 375.3 1009.1 376.5 1007.8 377.6 1006.6 378.7 1005.4 379.7 1004.3 380.7 1003.2 381.7 1002.2 382.7 1001.1 383.8 1000.0 385.0 999.0 386.2 997.9 387.5 996.8 388.8 995.8 390.2 994.7 391.5 993.7 392.9 992.8 394.2 992.0 395.5 991.2 396.8 990.6 398.1 990.0 399.4 989.5 400.6 989.0 401.9 988.6 403.1 988.2 404.4 987.9 405.6 987.6 406.9 987.3 408.1 987.0 409.4 986.8 410.6 986.5 411.9 986.4 413.1 986.3 414.4 986.2 415.6 986.1 416.9 986.2 418.1 986.2 419.4 986.3 420.6 986.5 422.0 986.7 423.4 987.1 424.8 987.6 426.4 988.2 428.0 988.9 429.8 989.7 431.6 990.6 433.4 991.6 435.4 992.8 437.5 994.3 439.7 995.9 442.0 997.7 444.4 999.7 447.0 1001.9 449.6 1004.3 452.3 1006.9 455.1 1009.5 457.8 1012.2 460.6 1014.8 463.3 1017.5 466.1 1020.3 468.9 1023.0 471.7 1025.8 474.4 1028.5 477.1 1031.3 479.7 1034.1 482.1 1036.8 484.4 1039.6 486.6 1042.3 488.7 1045.1 490.7 1047.8 492.5 1050.5 494.4 1053.1 496.2 1055.7 498.1 1058.1 500.0 1060.5 501.8 1062.7 503.7 1064.9 505.6 1067.0 507.4 1069.0 509.3 1071.0 511.2 1073.0 513.0 1075.1 514.9 1077.1 516.7 1079.2 518.6 1081.2 520.4 1083.3 522.3 1085.4 524.1 1087.5 525.9 1089.6 527.7 1091.6 529.6 1093.7 531.4 1095.7 533.2 1097.8 535.0 1099.8 536.7 1101.9 538.5 1103.9 540.4 1105.9 542.2 1108.0 544.1 1110.0 545.9 1112.1 547.8 1114.1 549.7 1116.2 551.7 1118.2 553.5 1120.2 555.3 1122.1 557.1 1123.8 558.8 1125.5 560.4 1127.1 562.0 1128.6 563.5 1130.0 564.9 1131.4 566.4 1132.6 567.8 1133.9 569.1 1135.1 570.5 1136.3 571.8 1137.4 573.1 1138.5 574.4 1139.5 575.6 1140.5 576.9 1141.6 578.3 1142.8 579.8 1144.1 581.3 1145.4 582.8 1146.9 584.5 1148.5 586.2 1150.1 587.9 1151.9 589.7 1153.6 591.5 1155.3 593.4 1157.0 595.2 1158.7 597.1 1160.3 599.0 1162.0 600.9 1163.6 602.9 1165.2 604.7 1166.8 606.4 1168.4 608.0 1169.9 609.4 1171.4 610.7 1173.0 611.9 1174.5 612.9 1176.0 613.9 1177.4 614.8 1178.8 615.9 1180.2 617.0 1181.4 618.1 1182.6 619.3 1183.8 620.6 1184.8 621.9 1185.8 623.2 1186.8 624.6 1187.7 626.0 1188.6 627.4 1189.5 628.8 1190.5 630.2 1191.4 631.6 1192.3 633.0 1193.3 634.4 1194.2 635.9 1195.3 637.4 1196.4 639.0 1197.7 640.7 1199.1 642.4 1200.5 644.1 1202.1 645.9 1203.8 647.8 1205.7 649.7 1207.4 651.5 1209.2 653.4 1211.0 655.4 1212.7 657.3 1214.4 659.2 1216.0 661.2 1217.7 663.1 1219.3 665.1 1220.9 667.0 1222.4 668.9 1223.9 670.7 1225.3 672.5 1226.7 674.3 1228.0 676.1 1229.2 677.9 1230.5 679.5 1231.6 681.1 1232.6 682.5 1233.6 683.8 1234.5 685.1 1235.3 686.2 1236.1 687.2 1236.8 688.2 1237.3 689.2 1237.9 690.3 1238.5 691.5 1239.1 692.8 1239.6 694.2 1240.1 695.7 1240.7 697.3 1241.2 699.1 1241.7 700.8 1242.2 702.6 1242.6 704.4 1243.0 706.3 1243.4 708.2 1243.8 710.1 1244.1 712.1 1244.3 714.1 1244.6 716.1 1244.8 718.1 1244.9 720.0 1245.0 721.8 1245.1 723.7 1245.1 725.5 1245.1 727.2 1245.0 729.0 1244.9 730.7 1244.7 732.5 1244.5 734.2 1244.3 736.1 1244.0 737.9 1243.7 739.7 1243.4 741.6 1243.0 743.4 1242.5 745.5 1242.0 747.7 1241.5 750.0 1240.9 752.5 1240.2 755.2 1239.5 758.0 1238.8 760.9 1237.9 764.1 1237.1 767.2 1236.2 770.3 1235.3 773.4 1234.3 776.6 1233.4 779.7 1232.5 782.8 1231.5 785.9 1230.5 789.1 1229.5 792.2 1228.5 795.3 1227.5 798.4 1226.4 801.6 1225.3 804.7 1224.3 807.8 1223.2 810.9 1222.1 814.1 1220.9 817.2 1219.8 820.3 1218.8 823.4 1217.8 826.6 1216.8 829.7 1215.8 832.8 1214.8 835.9 1213.9 839.1 1213.1 842.3 1212.2 845.5 1211.3 848.9 1210.4 852.3 1209.6 855.9 1208.7 859.5 1207.8 863.1 1206.9 866.9 1206.1 870.5 1205.3 874.1 1204.5 877.5 1203.8 880.9 1203.2 884.1 1202.6 887.3 1202.2 890.4 1201.7 893.3 1201.4 896.3 1201.1 899.4 1200.8 902.5 1200.6 905.6 1200.4 908.8 1200.3 912.0 1200.3 915.2 1200.3 918.5 1200.3 921.8 1200.4 925.2 1200.6 928.7 1200.8 932.2 1201.1 935.8 1201.4 939.4 1201.8 943.1 1202.3 946.9 1202.8 950.8 1203.4 954.8 1204.0 959.1 1204.7 963.4 1205.5 968.0 1206.4 972.7 1207.3 977.5 1208.3 982.5 1209.3 987.5 1210.4 992.5 1211.6 997.5 1212.9 1002.5 1214.2 1007.5 1215.6 1012.5 1217.0 1017.5 1218.6 1022.5 1220.1 1027.4 1221.7 1032.3 1223.1 1037.0 1224.5 1041.7 1225.8 1046.3 1227.1 1050.9 1228.2 1055.3 1229.3 1059.7 1230.4 1064.1 1231.4 1068.5 1232.4 1072.9 1233.5 1077.3 1234.5 1081.8 1235.5 1086.3 1236.5 1090.8 1237.5 1095.2 1238.5 1099.8 1239.5 1104.4 1240.5 1109.0 1241.4 1113.7 1242.3 1118.5 1243.3 1123.2 1244.2 1128.1 1245.1 1132.9 1245.9 1138.0 1246.8 1143.2 1247.6 1148.6 1248.3 1154.2 1249.0 1159.9 1249.7 1165.8 1250.4 1171.9 1251.0 1178.1 1251.5 1184.4 1252.1 1190.6 1252.6 1196.9 1253.0 1203.1 1253.5 1209.4 1253.9 1215.6 1254.2 1221.9 1254.6 1228.1 1254.9 1234.3 1255.2 1240.4 1255.5 1246.5 1255.7 1252.5 1255.9 1258.4 1256.1 1264.3 1256.3 1270.1 1256.4 1275.9 1256.6 1280.9 1256.7 1285.2 1256.8 1288.8 1256.8 1291.7 1256.9 1293.8 1257.0 1295.3 1257.0 1296.0 1257.0"/>
<path stroke="#ff00ff" stroke-opacity="0.3" stroke-width="5.8" d="M209.5 982.0 209.5 982.0 209.6 982.1 209.7 982.3 209.9 982.5 210.1 982.7 210.3 983.0 210.6 983.3 210.9 983.7 211.3 984.4 211.8 985.4 212.3 986.7 213.0 988.3 213.7 990.2 214.5 992.5 215.3 995.1 216.3 997.9 217.3 1000.9 218.4 1003.9 219.5 1007.0 220.8 1010.2 222.1 1013.5 223.5 1016.8 224.9 1020.2 226.4 1023.8 227.9 1027.3 229.4 1030.8 230.9 1034.3 232.4 1037.9 233.9 1041.5 235.3 1045.1 236.8 1048.7 238.2 1052.3 239.7 1056.0 241.3 1059.6 242.8 1063.3 244.5 1067.0 246.1 1070.7 247.8 1074.4 249.6 1078.1 251.4 1081.9 253.2 1085.6 254.9 1089.2 256.6 1092.8 258.3 1096.4 260.0 1099.9 261.6 1103.4 263.3 1106.8 264.8 1110.2 266.4 1113.3 267.9 1116.3 269.3 1119.0 270.7 1121.5 272.1 1123.8 273.4 1125.8 274.6 1127.7 275.8 1129.3 277.0 1130.8 278.1 1132.3 279.2 1133.6 280.4 1134.8 281.4 1135.9 282.5 1136.9 283.5 1137.8 284.5 1138.7 285.5 1139.4 286.5 1140.0 287.4 1140.6 288.3 1141.1 289.3 1141.5 290.2 1141.9 291.1 1142.2 291.9 1142.3 292.8 1142.5 293.7 1142.6 294.7 1142.6 295.6 1142.5 296.5 1142.5 297.5 1142.3 298.5 1142.1 299.5 1141.9 300.5 1141.5 301.5 1141.1 302.6 1140.7 303.7 1140.1 304.7 1139.5 305.8 1138.7 306.9 1137.9 308.1 1137.1 309.2 1136.1 310.5 1135.1 311.8 1134.0 313.1 1132.8 314.5 1131.5 315.9 1130.2 317.4 1128.8 319.0 1127.2 320.7 1125.5 322.5 1123.5 324.5 1121.3 326.6 1118.9 328.9 1116.2 331.3 1113.3 333.8 1110.2 336.5 1106.8 339.2 1103.4 341.9 1099.9 344.7 1096.4 347.5 1092.8 350.3 1089.2 353.2 1085.6 356.1 1081.9 358.9 1078.1 362.0 1074.4 365.1 1070.7 368.4 1067.0 371.8 1063.3 375.3 1059.6 378.9 1056.0 382.6 1052.3 386.5 1048.7 390.0 1045.3 393.1 1042.3 395.9 1039.5 398.4 1037.0 400.4 1034.8 402.2 1032.8 403.5 1031.2 404.6 1029.8 405.6 1028.5 406.8 1027.3 408.0 1026.2 409.2 1025.2 410.5 1024.2 411.9 1023.4 413.3 1022.6 414.8 1021.9 416.3 1021.2 417.8 1020.6 419.3 1019.9 420.8 1019.2 422.3 1018.6 423.8 1017.9 425.3 1017.3 426.8 1016.7 428.4 1016.0 430.1 1015.4 431.9 1014.7 433.8 1014.0 435.7 1013.4 437.8 1012.6 439.9 1011.9 442.2 1011.2 444.4 1010.5 446.5 1009.9 448.6 1009.4 450.7 1008.9 452.7 1008.5 454.6 1008.2 456.6 1007.9 458.4 1007.7 460.3 1007.5 462.0 1007.3 463.8 1007.2 465.4 1007.1 467.0 1006.9 468.6 1006.8 470.1 1006.7 471.6 1006.7 473.1 1006.6 474.6 1006.5 476.1 1006.4 477.7 1006.3 479.3 1006.2 480.9 1006.1 482.5 1006.0 484.2 1005.9 485.8 1005.8 487.3 1005.7 488.8 1005.6 490.2 1005.5 491.5 1005.4 492.7 1005.3 493.9 1005.2 495.1 1005.2 496.2 1005.1 497.2 1005.1 498.3 1005.1 499.3 1005.1 500.3 1005.1 501.3 1005.1 502.2 1005.2 503.2 1005.3 504.2 1005.5 505.4 1005.8 506.6 1006.2 508.0 1006.7 509.5 1007.3 511.2 1008.0 512.9 1008.8 514.8 1009.8 516.6 1010.6 518.5 1011.5 520.3 1012.3 522.2 1013.1 524.0 1013.8 525.9 1014.5 527.7 1015.2 529.6 1015.8 531.4 1016.4 533.3 1017.1 535.1 1017.7 537.0 1018.4 538.8 1019.0 540.7 1019.7 542.6 1020.4 544.4 1021.0 546.3 1021.8 548.2 1022.7 550.1 1023.7 551.9 1024.8 553.8 1025.9 555.7 1027.2 557.5 1028.6 559.4 1030.1 561.2 1031.6 563.1 1033.2 564.9 1034.8 566.7 1036.5 568.5 1038.2 570.3 1039.9 572.1 1041.7 573.8 1043.6 575.6 1045.5 577.4 1047.6 579.1 1049.9 580.9 1052.2 582.6 1054.7 584.4 1057.3 586.2 1060.1 587.9 1062.9 589.7 1065.8 591.5 1068.7 593.4 1071.6 595.2 1074.5 597.1 1077.4 599.0 1080.4 600.9 1083.3 602.9 1086.2 604.7 1089.0 606.5 1091.7 608.2 1094.3 609.8 1096.7 611.4 1099.0 612.8 1101.2 614.2 1103.3 615.5 1105.2 616.8 1107.2 618.1 1109.2 619.5 1111.2 620.9 1113.2 622.3 1115.3 623.8 1117.4 625.2 1119.5 626.8 1121.7 628.2 1123.8 629.7 1126.0 631.2 1128.2 632.6 1130.4 634.0 1132.6 635.4 1134.8 636.8 1137.0 638.2 1139.2 639.6 1141.5 641.1 1143.9 642.6 1146.4 644.1 1148.9 645.7 1151.6 647.4 1154.3 649.1 1157.1 650.8 1159.9 652.5 1162.7 654.1 1165.5 655.7 1168.2 657.2 1170.8 658.6 1173.3 660.0 1175.7 661.3 1178.1 662.6 1180.5 663.7 1182.6 664.8 1184.5 665.8 1186.3 666.6 1187.9 667.3 1189.2 668.0 1190.4 668.5 1191.4 669.0 1192.2 669.5 1193.2 670.1 1194.2 670.9 1195.5 671.7 1196.9 672.7 1198.4 673.7 1200.2 674.9 1202.0 676.1 1204.0 677.3 1205.9 678.4 1207.7 679.4 1209.3 680.4 1210.9 681.3 1212.4 682.1 1213.7 682.9 1214.9 683.5 1216.1 684.3 1217.2 685.1 1218.4 685.9 1219.6 686.8 1220.9 687.8 1222.2 688.8 1223.5 689.9 1224.8 691.0 1226.2 692.2 1227.5 693.4 1228.7 694.6 1229.8 695.9 1230.9 697.2 1231.9 698.5 1232.8 699.8 1233.6 701.2 1234.4 702.6 1235.1 704.1 1235.8 705.7 1236.5 707.3 1237.1 709.0 1237.8 710.8 1238.4 712.6 1239.0 714.5 1239.5 716.5 1240.1 718.6 1240.5 720.8 1241.0 723.0 1241.4 725.4 1241.8 727.8 1242.1 730.3 1242.4 732.9 1242.6 735.5 1242.8 738.0 1242.9 740.4 1242.9 742.9 1242.8 745.2 1242.6 747.6 1242.3 749.9 1242.0 752.1 1241.5 754.3 1241.1 756.5 1240.6 758.6 1240.1 760.7 1239.6 762.7 1239.1 764.6 1238.6 766.6 1238.0 768.4 1237.5 770.5 1236.9 772.7 1236.3 775.0 1235.7 777.5 1235.1 780.2 1234.4 783.0 1233.8 785.9 1233.1 789.1 1232.4 792.2 1231.7 795.3 1230.9 798.4 1230.1 801.6 1229.3 804.7 1228.4 807.8 1227.5 810.9 1226.5 814.1 1225.5 817.2 1224.5 820.3 1223.6 823.4 1222.8 826.6 1222.0 829.7 1221.2 832.8 1220.5 835.9 1219.8 839.1 1219.2 842.3 1218.5 845.5 1217.9 848.9 1217.2 852.3 1216.5 855.9 1215.8 859.5 1215.1 863.1 1214.4 866.9 1213.6 870.5 1212.9 874.1 1212.3 877.5 1211.8 880.9 1211.2 884.1 1210.8 887.3 1210.4 890.4 1210.1 893.3 1209.9 896.3 1209.7 899.4 1209.5 902.5 1209.5 905.6 1209.4 908.8 1209.4 912.0 1209.5 915.2 1209.7 918.5 1209.8 921.8 1210.1 925.2 1210.4 928.7 1210.8 932.2 1211.2 935.8 1211.6 939.4 1212.2 943.1 1212.8 946.9 1213.4 950.8 1214.1 954.8 1214.8 959.1 1215.5 963.4 1216.2 968.0 1216.9 972.7 1217.7 977.5 1218.5 982.5 1219.2 987.5 1220.1 992.5 1221.0 997.5 1222.0 1002.5 1223.0 1007.5 1224.0 1012.5 1225.2 1017.5 1226.4 1022.5 1227.6 1027.4 1228.8 1032.3 1230.0 1037.0 1231.2 1041.7 1232.3 1046.3 1233.4 1050.9 1234.5 1055.3 1235.5 1059.7 1236.5 1064.1 1237.5 1068.5 1238.5 1072.9 1239.4 1077.3 1240.3 1081.8 1241.3 1086.3 1242.2 1090.8 1243.1 1095.2 1243.9 1099.8 1244.8 1104.4 1245.6 1109.0 1246.4 1113.7 1247.1 1118.5 1247.8 1123.2 1248.5 1128.1 1249.2 1132.9 1249.8 1138.0 1250.4 1143.2 1251.0 1148.6 1251.6 1154.2 1252.2 1159.9 1252.7 1165.8 1253.2 1171.9 1253.8 1178.1 1254.2 1184.4 1254.7 1190.6 1255.1 1196.9 1255.5 1203.1 1255.8 1209.4 1256.0 1215.6 1256.3 1221.9 1256.4 1228.1 1256.6 1234.3 1256.7 1240.4 1256.8 1246.5 1256.9 1252.5 1257.0 1258.4 1257.1 1264.3 1257.1 1270.1 1257.2 1275.9 1257.3 1280.9 1257.3 1285.2 1257.4 1288.8 1257.4 1291.7 1257.5 1293.8 1257.5 1295.3 1257.5 1296.0 1257.5"/>
<path stroke="#ff00ff" d="M209.5 982.0 209.5 982.0 209.6 982.1 209.7 982.3 209.9 982.5 210.1 982.7 210.3 983.0 210.6 983.3 210.9 983.7 211.3 984.4 211.8 985.4 212.3 986.7 213.0 988.3 213.7 990.2 214.5 992.5 215.3 995.1 216.3 997.9 217.3 1000.9 218.4 1003.9 219.5 1007.0 220.8 1010.2 222.1 1013.5 223.5 1016.8 224.9 1020.2 226.4 1023.8 227.9 1027.3 229.4 1030.8 230.9 1034.3 232.4 1037.9 233.9 1041.5 235.3 1045.1 236.8 1048.7 238.2 1052.3 239.7 1056.0 241.3 1059.6 242.8 1063.3 244.5 1067.0 246.1 1070.7 247.8 1074.4 249.6 1078.1 251.4 1081.9 253.2 1085.6 254.9 1089.2 256.6 1092.8 258.3 1096.4 260.0 1099.9 261.6 1103.4 263.3 1106.8 264.8 1110.2 266.4 1113.3 267.9 1116.3 269.3 1119.0 270.7 1121.5 272.1 1123.8 273.4 1125.8 274.6 1127.7 275.8 1129.3 277.0 1130.8 278.1 1132.3 279.2 1133.6 280.4 1134.8 281.4 1135.9 282.5 1136.9 283.5 1137.8 284.5 1138.7 285.5 1139.4 286.5 1140.0 287.4 1140.6 288.3 1141.1 289.3 1141.5 290.2 1141.9 291.1 1142.2 291.9 1142.3 292.8 1142.5 293.7 1142.6 294.7 1142.6 295.6 1142.5 296.5 1142.5 297.5 1142.3 298.5 1142.1 299.5 1141.9 300.5 1141.5 301.5 1141.1 302.6 1140.7 303.7 1140.1 304.7 1139.5 305.8 1138.7 306.9 1137.9 308.1 1137.1 309.2 1136.1 310.5 1135.1 311.8 1134.0 313.1 1132.8 314.5 1131.5 315.9 1130.2 317.4 1128.8 319.0 1127.2 320.7 1125.5 322.5 1123.5 324.5 1121.3 326.6 1118.9 328.9 1116.2 331.3 1113.3 333.8 1110.2 336.5 1106.8 339.2 1103.4 341.9 1099.9 344.7 1096.4 347.5 1092.8 350.3 1089.2 353.2 1085.6 356.1 1081.9 358.9 1078.1 362.0 1074.4 365.1 1070.7 368.4 1067.0 371.8 1063.3 375.3 1059.6 378.9 1056.0 382.6 1052.3 386.5 1048.7 390.0 1045.3 393.1 1042.3 395.9 1039.5 398.4 1037.0 400.4 1034.8 402.2 1032.8 403.5 1031.2 404.6 1029.8 405.6 1028.5 406.8 1027.3 408.0 1026.2 409.2 1025.2 410.5 1024.2 411.9 1023.4 413.3 1022.6 414.8 1021.9 416.3 1021.2 417.8 1020.6 419.3 1019.9 420.8 1019.2 422.3 1018.6 423.8 1017.9 425.3 1017.3 426.8 1016.7 428.4 1016.0 430.1 1015.4 431.9 1014.7 433.8 1014.0 435.7 1013.4 437.8 1012.6 439.9 1011.9 442.2 1011.2 444.4 1010.5 446.5 1009.9 448.6 1009.4 450.7 1008.9 452.7 1008.5 454.6 1008.2 456.6 1007.9 458.4 1007.7 460.3 1007.5 462.0 1007.3 463.8 1007.2 465.4 1007.1 467.0 1006.9 468.6 1006.8 470.1 1006.7 471.6 1006.7 473.1 1006.6 474.6 1006.5 476.1 1006.4 477.7 1006.3 479.3 1006.2 480.9 1006.1 482.5 1006.0 484.2 1005.9 485.8 1005.8 487.3 1005.7 488.8 1005.6 490.2 1005.5 491.5 1005.4 492.7 1005.3 493.9 1005.2 495.1 1005.2 496.2 1005.1 497.2 1005.1 498.3 1005.1 499.3 1005.1 500.3 1005.1 501.3 1005.1 502.2 1005.2 503.2 1005.3 504.2 1005.5 505.4 1005.8 506.6 1006.2 508.0 1006.7 509.5 1007.3 511.2 1008.0 512.9 1008.8 514.8 1009.8 516.6 1010.6 518.5 1011.5 520.3 1012.3 522.2 1013.1 524.0 1013.8 525.9 1014.5 527.7 1015.2 529.6 1015.8 531.4 1016.4 533.3 1017.1 535.1 1017.7 537.0 1018.4 538.8 1019.0 540.7 1019.7 542.6 1020.4 544.4 1021.0 546.3 1021.8 548.2 1022.7 550.1 1023.7 551.9 1024.8 553.8 1025.9 555.7 1027.2 557.5 1028.6 559.4 1030.1 561.2 1031.6 563.1 1033.2 564.9 1034.8 566.7 1036.5 568.5 1038.2 570.3 1039.9 572.1 1041.7 573.8 1043.6 575.6 1045.5 577.4 1047.6 579.1 1049.9 580.9 1052.2 582.6 1054.7 584.4 1057.3 586.2 1060.1 587.9 1062.9 589.7 1065.8 591.5 1068.7 593.4 1071.6 595.2 1074.5 597.1 1077.4 599.0 1080.4 600.9 1083.3 602.9 1086.2 604.7 1089.0 606.5 1091.7 608.2 1094.3 609.8 1096.7 611.4 1099.0 612.8 1101.2 614.2 1103.3 615.5 1105.2 616.8 1107.2 618.1 1109.2 619.5 1111.2 620.9 1113.2 622.3 1115.3 623.8 1117.4 625.2 1119.5 626.8 1121.7 628.2 1123.8 629.7 1126.0 631.2 1128.2 632.6 1130.4 634.0 1132.6 635.4 1134.8 636.8 1137.0 638.2 1139.2 639.6 1141.5 641.1 1143.9 642.6 1146.4 644.1 1148.9 645.7 1151.6 647.4 1154.3 649.1 1157.1 650.8 1159.9 652.5 1162.7 654.1 1165.5 655.7 1168.2 657.2 1170.8 658.6 1173.3 660.0 1175.7 661.3 1178.1 662.6 1180.5 663.7 1182.6 664.8 1184.5 665.8 1186.3 666.6 1187.9 667.3 1189.2 668.0 1190.4 668.5 1191.4 669.0 1192.2 669.5 1193.2 670.1 1194.2 670.9 1195.5 671.7 1196.9 672.7 1198.4 673.7 1200.2 674.9 1202.0 676.1 1204.0 677.3 1205.9 678.4 1207.7 679.4 1209.3 680.4 1210.9 681.3 1212.4 682.1 1213.7 682.9 1214.9 683.5 1216.1 684.3 1217.2 685.1 1218.4 685.9 1219.6 686.8 1220.9 687.8 1222.2 688.8 1223.5 689.9 1224.8 691.0 1226.2 692.2 1227.5 693.4 1228.7 694.6 1229.8 695.9 1230.9 697.2 1231.9 698.5 1232.8 699.8 1233.6 701.2 1234.4 702.6 1235.1 704.1 1235.8 705.7 1236.5 707.3 1237.1 709.0 1237.8 710.8 1238.4 712.6 1239.0 714.5 1239.5 716.5 1240.1 718.6 1240.5 720.8 1241.0 723.0 1241.4 725.4 1241.8 727.8 1242.1 730.3 1242.4 732.9 1242.6 735.5 1242.8 738.0 1242.9 740.4 1242.9 742.9 1242.8 745.2 1242.6 747.6 1242.3 749.9 1242.0 752.1 1241.5 754.3 1241.1 756.5 1240.6 758.6 1240.1 760.7 1239.6 762.7 1239.1 764.6 1238.6 766.6 1238.0 768.4 1237.5 770.5 1236.9 772.7 1236.3 775.0 1235.7 777.5 1235.1 780.2 1234.4 783.0 1233.8 785.9 1233.1 789.1 1232.4 792.2 1231.7 795.3 1230.9 798.4 1230.1 801.6 1229.3 804.7 1228.4 807.8 1227.5 810.9 1226.5 814.1 1225.5 817.2 1224.5 820.3 1223.6 823.4 1222.8 826.6 1222.0 829.7 1221.2 832.8 1220.5 835.9 1219.8 839.1 1219.2 842.3 1218.5 845.5 1217.9 848.9 1217.2 852.3 1216.5 855.9 1215.8 859.5 1215.1 863.1 1214.4 866.9 1213.6 870.5 1212.9 874.1 1212.3 877.5 1211.8 880.9 1211.2 884.1 1210.8 887.3 1210.4 890.4 1210.1 893.3 1209.9 896.3 1209.7 899.4 1209.5 902.5 1209.5 905.6 1209.4 908.8 1209.4 912.0 1209.5 915.2 1209.7 918.5 1209.8 921.8 1210.1 925.2 1210.4 928.7 1210.8 932.2 1211.2 935.8 1211.6 939.4 1212.2 943.1 1212.8 946.9 1213.4 950.8 1214.1 954.8 1214.8 959.1 1215.5 963.4 1216.2 968.0 1216.9 972.7 1217.7 977.5 1218.5 982.5 1219.2 987.5 1220.1 992.5 1221.0 997.5 1222.0 1002.5 1223.0 1007.5 1224.0 1012.5 1225.2 1017.5 1226.4 1022.5 1227.6 1027.4 1228.8 1032.3 1230.0 1037.0 1231.2 1041.7 1232.3 1046.3 1233.4 1050.9 1234.5 1055.3 1235.5 1059.7 1236.5 1064.1 1237.5 1068.5 1238.5 1072.9 1239.4 1077.3 1240.3 1081.8 1241.3 1086.3 1242.2 1090.8 1243.1 1095.2 1243.9 1099.8 1244.8 1104.4 1245.6 1109.0 1246.4 1113.7 1247.1 1118.5 1247.8 1123.2 1248.5 1128.1 1249.2 1132.9 1249.8 1138.0 1250.4 1143.2 1251.0 1148.6 1251.6 1154.2 1252.2 1159.9 1252.7 1165.8 1253.2 1171.9 1253.8 1178.1 1254.2 1184.4 1254.7 1190.6 1255.1 1196.9 1255.5 1203.1 1255.8 1209.4 1256.0 1215.6 1256.3 1221.9 1256.4 1228.1 1256.6 1234.3 1256.7 1240.4 1256.8 1246.5 1256.9 1252.5 1257.0 1258.4 1257.1 1264.3 1257.1 1270.1 1257.2 1275.9 1257.3 1280.9 1257.3 1285.2 1257.4 1288.8 1257.4 1291.7 1257.5 1293.8 1257.5 1295.3 1257.5 1296.0 1257.5"/>
<path stroke="#000080" stroke-opacity="0.3" stroke-width="5.8" d="M209.5 920.0 209.5 920.0 209.6 920.1 209.8 920.2 209.9 920.3 210.1 920.5 210.4 920.7 210.7 921.0 211.0 921.2 211.4 921.7 211.9 922.2 212.4 922.9 213.0 923.7 213.6 924.7 214.4 925.8 215.1 927.0 216.0 928.4 216.8 929.9 217.7 931.4 218.6 933.1 219.5 934.8 220.5 936.6 221.5 938.5 222.4 940.5 223.5 942.6 224.5 945.0 225.7 947.5 227.0 950.2 228.3 953.1 229.7 956.2 231.2 959.6 232.7 963.1 234.4 966.9 235.9 970.6 237.5 974.3 238.9 977.9 240.3 981.6 241.6 985.2 242.9 988.7 244.1 992.2 245.3 995.8 246.4 999.2 247.6 1002.8 248.7 1006.2 249.9 1009.8 251.0 1013.2 252.2 1016.8 253.3 1020.2 254.5 1023.8 255.6 1027.3 256.8 1030.8 258.0 1034.3 259.2 1037.9 260.4 1041.5 261.6 1045.1 262.9 1048.7 264.1 1052.3 265.4 1056.0 266.8 1059.6 268.2 1063.3 269.7 1067.0 271.2 1070.7 272.8 1074.4 274.4 1078.1 276.1 1081.9 277.7 1085.2 279.2 1088.2 280.5 1090.8 281.8 1093.0 283.0 1094.9 284.1 1096.3 285.1 1097.4 285.9 1098.1 286.8 1098.7 287.7 1099.3 288.6 1099.8 289.5 1100.3 290.4 1100.7 291.4 1101.1 292.3 1101.4 293.2 1101.6 294.2 1101.8 295.1 1102.0 296.0 1102.1 297.0 1102.1 297.9 1102.1 298.8 1102.0 299.8 1101.9 300.7 1101.8 301.6 1101.6 302.5 1101.4 303.3 1101.2 304.1 1100.9 304.8 1100.6 305.5 1100.3 306.2 1100.0 306.8 1099.7 307.4 1099.3 308.1 1099.0 308.8 1098.6 309.4 1098.2 310.1 1097.8 310.8 1097.4 311.5 1097.0 312.2 1096.5 313.0 1095.9 313.8 1095.2 314.8 1094.3 315.8 1093.3 316.8 1092.1 318.0 1090.8 319.2 1089.3 320.5 1087.7 321.8 1086.0 323.2 1084.2 324.5 1082.4 325.9 1080.6 327.4 1078.6 328.8 1076.6 330.3 1074.6 331.8 1072.4 333.5 1070.1 335.3 1067.6 337.2 1064.9 339.3 1062.1 341.5 1059.0 343.9 1055.8 346.4 1052.3 349.0 1048.7 351.6 1045.2 354.0 1042.0 356.3 1038.8 358.5 1035.9 360.5 1033.1 362.5 1030.5 364.3 1028.1 366.0 1025.9 367.6 1023.8 369.2 1021.9 370.7 1020.2 372.1 1018.6 373.5 1017.2 374.7 1016.0 375.9 1014.9 377.1 1014.1 378.2 1013.2 379.3 1012.5 380.4 1011.8 381.6 1011.2 382.7 1010.6 383.8 1010.1 384.9 1009.7 386.1 1009.3 387.3 1009.0 388.6 1008.7 390.0 1008.4 391.5 1008.1 393.1 1007.9 394.8 1007.7 396.6 1007.6 398.4 1007.4 400.3 1007.4 402.3 1007.3 404.2 1007.3 406.2 1007.3 408.3 1007.4 410.3 1007.5 412.4 1007.7 414.6 1007.8 416.7 1008.2 418.9 1008.7 421.0 1009.4 423.2 1010.2 425.4 1011.2 427.6 1012.4 429.9 1013.8 432.1 1015.2 434.3 1016.8 436.5 1018.4 438.5 1020.0 440.6 1021.7 442.5 1023.4 444.4 1025.2 446.3 1027.0 448.1 1028.8 449.9 1030.8 451.7 1032.9 453.5 1035.2 455.4 1037.6 457.2 1040.2 459.1 1042.9 460.9 1045.7 462.8 1048.7 464.6 1051.7 466.5 1054.6 468.4 1057.6 470.2 1060.6 472.0 1063.6 473.9 1066.6 475.7 1069.6 477.6 1072.5 479.4 1075.5 481.3 1078.5 483.1 1081.6 485.0 1084.6 486.8 1087.6 488.7 1090.7 490.6 1093.7 492.4 1096.8 494.3 1099.8 496.2 1102.8 498.1 1105.7 499.9 1108.6 501.8 1111.4 503.7 1114.2 505.6 1116.9 507.4 1119.6 509.3 1122.3 511.2 1124.9 513.0 1127.5 514.9 1130.1 516.7 1132.7 518.6 1135.3 520.4 1137.8 522.3 1140.4 524.1 1142.9 525.9 1145.4 527.7 1147.9 529.6 1150.4 531.4 1152.9 533.2 1155.4 535.0 1157.9 536.7 1160.3 538.5 1162.8 540.4 1165.2 542.2 1167.7 544.1 1170.1 545.9 1172.5 547.8 1174.9 549.7 1177.2 551.7 1179.6 553.5 1181.8 555.3 1183.8 557.1 1185.7 558.8 1187.5 560.4 1189.1 562.0 1190.5 563.5 1191.8 564.9 1193.0 566.4 1194.1 567.8 1195.1 569.1 1196.1 570.5 1197.0 571.8 1197.8 573.1 1198.6 574.4 1199.3 575.6 1200.0 576.9 1200.7 578.3 1201.4 579.8 1202.2 581.3 1203.0 582.8 1203.9 584.5 1204.7 586.2 1205.7 587.9 1206.6 589.9 1207.7 592.1 1208.9 594.5 1210.2 597.1 1211.5 600.0 1213.0 603.0 1214.6 606.3 1216.3 609.8 1218.2 613.2 1219.9 616.5 1221.5 619.8 1223.0 623.0 1224.5 626.1 1225.8 629.1 1227.1 632.1 1228.2 634.9 1229.3 637.8 1230.3 640.8 1231.3 643.8 1232.2 646.8 1233.1 649.8 1234.0 652.8 1234.8 655.9 1235.6 659.1 1236.4 662.1 1237.1 665.1 1237.7 668.0 1238.3 670.8 1238.8 673.5 1239.3 676.2 1239.7 678.8 1240.1 681.2 1240.4 683.7 1240.7 686.1 1241.0 688.4 1241.2 690.6 1241.4 692.8 1241.6 694.9 1241.8 697.0 1241.9 699.0 1242.0 701.0 1242.1 703.1 1242.1 705.3 1242.1 707.5 1242.0 709.7 1241.9 712.0 1241.8 714.3 1241.6 716.7 1241.3 719.0 1241.1 721.3 1240.8 723.6 1240.5 725.9 1240.2 728.1 1239.8 730.3 1239.5 732.4 1239.1 734.6 1238.7 736.7 1238.3 738.9 1237.8 741.0 1237.2 743.2 1236.6 745.4 1236.0 747.6 1235.3 749.9 1234.5 752.1 1233.8 754.4 1233.0 756.7 1232.1 759.1 1231.3 761.4 1230.4 763.8 1229.5 766.3 1228.6 768.8 1227.7 771.2 1226.8 773.9 1225.8 776.7 1224.7 779.7 1223.6 782.8 1222.4 786.1 1221.2 789.5 1219.8 793.1 1218.5 796.9 1217.0 800.8 1215.6 804.8 1214.1 809.1 1212.6 813.4 1211.0 818.0 1209.5 822.7 1207.9 827.5 1206.3 832.5 1204.7 837.3 1203.1 842.0 1201.7 846.6 1200.3 850.9 1199.0 855.2 1197.7 859.2 1196.6 863.1 1195.5 866.9 1194.5 870.5 1193.6 874.1 1192.7 877.5 1191.9 880.9 1191.2 884.1 1190.6 887.3 1190.0 890.4 1189.5 893.3 1189.0 896.3 1188.7 899.4 1188.3 902.5 1188.1 905.6 1187.9 908.8 1187.8 912.0 1187.7 915.2 1187.7 918.5 1187.8 921.8 1187.9 925.2 1188.1 928.7 1188.4 932.2 1188.8 935.8 1189.2 939.4 1189.8 943.1 1190.4 946.9 1191.0 950.8 1191.8 954.8 1192.6 959.1 1193.5 963.4 1194.4 968.0 1195.4 972.7 1196.5 977.5 1197.6 982.5 1198.8 987.5 1200.1 992.5 1201.4 997.5 1202.8 1002.5 1204.2 1007.5 1205.8 1012.5 1207.3 1017.5 1209.0 1022.5 1210.7 1027.4 1212.4 1032.3 1214.0 1037.0 1215.5 1041.7 1217.0 1046.3 1218.5 1050.9 1219.9 1055.3 1221.2 1059.7 1222.5 1064.1 1223.7 1068.5 1225.0 1072.9 1226.2 1077.3 1227.3 1081.8 1228.4 1086.3 1229.5 1090.8 1230.6 1095.2 1231.6 1099.8 1232.6 1104.4 1233.6 1109.0 1234.7 1113.7 1235.7 1118.5 1236.6 1123.2 1237.6 1128.1 1238.6 1132.9 1239.6 1138.0 1240.5 1143.2 1241.5 1148.6 1242.4 1154.2 1243.3 1159.9 1244.1 1165.8 1245.0 1171.9 1245.8 1178.1 1246.6 1184.4 1247.4 1190.6 1248.1 1196.9 1248.7 1203.1 1249.4 1209.4 1249.9 1215.6 1250.5 1221.9 1251.0 1228.1 1251.4 1234.3 1251.8 1240.4 1252.2 1246.5 1252.6 1252.5 1252.9 1258.4 1253.2 1264.3 1253.4 1270.1 1253.7 1275.9 1253.8 1280.9 1254.0 1285.2 1254.1 1288.8 1254.3 1291.7 1254.4 1293.8 1254.4 1295.3 1254.5 1296.0 1254.5"/>
<path stroke="#000080" d="M209.5 920.0 209.5 920.0 209.6 920.1 209.8 920.2 209.9 920.3 210.1 920.5 210.4 920.7 210.7 921.0 211.0 921.2 211.4 921.7 211.9 922.2 212.4 922.9 213.0 923.7 213.6 924.7 214.4 925.8 215.1 927.0 216.0 928.4 216.8 929.9 217.7 931.4 218.6 933.1 219.5 934.8 220.5 936.6 221.5 938.5 222.4 940.5 223.5 942.6 224.5 945.0 225.7 947.5 227.0 950.2 228.3 953.1 229.7 956.2 231.2 959.6 232.7 963.1 234.4 966.9 235.9 970.6 237.5 974.3 238.9 977.9 240.3 981.6 241.6 985.2 242.9 988.7 244.1 992.2 245.3 995.8 246.4 999.2 247.6 1002.8 248.7 1006.2 249.9 1009.8 251.0 1013.2 252.2 1016.8 253.3 1020.2 254.5 1023.8 255.6 1027.3 256.8 1030.8 258.0 1034.3 259.2 1037.9 260.4 1041.5 261.6 1045.1 262.9 1048.7 264.1 1052.3 265.4 1056.0 266.8 1059.6 268.2 1063.3 269.7 1067.0 271.2 1070.7 272.8 1074.4 274.4 1078.1 276.1 1081.9 277.7 1085.2 279.2 1088.2 280.5 1090.8 281.8 1093.0 283.0 1094.9 284.1 1096.3 285.1 1097.4 285.9 1098.1 286.8 1098.7 287.7 1099.3 288.6 1099.8 289.5 1100.3 290.4 1100.7 291.4 1101.1 292.3 1101.4 293.2 1101.6 294.2 1101.8 295.1 1102.0 296.0 1102.1 297.0 1102.1 297.9 1102.1 298.8 1102.0 299.8 1101.9 300.7 1101.8 301.6 1101.6 302.5 1101.4 303.3 1101.2 304.1 1100.9 304.8 1100.6 305.5 1100.3 306.2 1100.0 306.8 1099.7 307.4 1099.3 308.1 1099.0 308.8 1098.6 309.4 1098.2 310.1 1097.8 310.8 1097.4 311.5 1097.0 312.2 1096.5 313.0 1095.9 313.8 1095.2 314.8 1094.3 315.8 1093.3 316.8 1092.1 318.0 1090.8 319.2 1089.3 320.5 1087.7 321.8 1086.0 323.2 1084.2 324.5 1082.4 325.9 1080.6 327.4 1078.6 328.8 1076.6 330.3 1074.6 331.8 1072.4 333.5 1070.1 335.3 1067.6 337.2 1064.9 339.3 1062.1 341.5 1059.0 343.9 1055.8 346.4 1052.3 349.0 1048.7 351.6 1045.2 354.0 1042.0 356.3 1038.8 358.5 1035.9 360.5 1033.1 362.5 1030.5 364.3 1028.1 366.0 1025.9 367.6 1023.8 369.2 1021.9 370.7 1020.2 372.1 1018.6 373.5 1017.2 374.7 1016.0 375.9 1014.9 377.1 1014.1 378.2 1013.2 379.3 1012.5 380.4 1011.8 381.6 1011.2 382.7 1010.6 383.8 1010.1 384.9 1009.7 386.1 1009.3 387.3 1009.0 388.6 1008.7 390.0 1008.4 391.5 1008.1 393.1 1007.9 394.8 1007.7 396.6 1007.6 398.4 1007.4 400.3 1007.4 402.3 1007.3 404.2 1007.3 406.2 1007.3 408.3 1007.4 410.3 1007.5 412.4 1007.7 414.6 1007.8 416.7 1008.2 418.9 1008.7 421.0 1009.4 423.2 1010.2 425.4 1011.2 427.6 1012.4 429.9 1013.8 432.1 1015.2 434.3 1016.8 436.5 1018.4 438.5 1020.0 440.6 1021.7 442.5 1023.4 444.4 1025.2 446.3 1027.0 448.1 1028.8 449.9 1030.8 451.7 1032.9 453.5 1035.2 455.4 1037.6 457.2 1040.2 459.1 1042.9 460.9 1045.7 462.8 1048.7 464.6 1051.7 466.5 1054.6 468.4 1057.6 470.2 1060.6 472.0 1063.6 473.9 1066.6 475.7 1069.6 477.6 1072.5 479.4 1075.5 481.3 1078.5 483.1 1081.6 485.0 1084.6 486.8 1087.6 488.7 1090.7 490.6 1093.7 492.4 1096.8 494.3 1099.8 496.2 1102.8 498.1 1105.7 499.9 1108.6 501.8 1111.4 503.7 1114.2 505.6 1116.9 507.4 1119.6 509.3 1122.3 511.2 1124.9 513.0 1127.5 514.9 1130.1 516.7 1132.7 518.6 1135.3 520.4 1137.8 522.3 1140.4 524.1 1142.9 525.9 1145.4 527.7 1147.9 529.6 1150.4 531.4 1152.9 533.2 1155.4 535.0 1157.9 536.7 1160.3 538.5 1162.8 540.4 1165.2 542.2 1167.7 544.1 1170.1 545.9 1172.5 547.8 1174.9 549.7 1177.2 551.7 1179.6 553.5 1181.8 555.3 1183.8 557.1 1185.7 558.8 1187.5 560.4 1189.1 562.0 1190.5 563.5 1191.8 564.9 1193.0 566.4 1194.1 567.8 1195.1 569.1 1196.1 570.5 1197.0 571.8 1197.8 573.1 1198.6 574.4 1199.3 575.6 1200.0 576.9 1200.7 578.3 1201.4 579.8 1202.2 581.3 1203.0 582.8 1203.9 584.5 1204.7 586.2 1205.7 587.9 1206.6 589.9 1207.7 592.1 1208.9 594.5 1210.2 597.1 1211.5 600.0 1213.0 603.0 1214.6 606.3 1216.3 609.8 1218.2 613.2 1219.9 616.5 1221.5 619.8 1223.0 623.0 1224.5 626.1 1225.8 629.1 1227.1 632.1 1228.2 634.9 1229.3 637.8 1230.3 640.8 1231.3 643.8 1232.2 646.8 1233.1 649.8 1234.0 652.8 1234.8 655.9 1235.6 659.1 1236.4 662.1 1237.1 665.1 1237.7 668.0 1238.3 670.8 1238.8 673.5 1239.3 676.2 1239.7 678.8 1240.1 681.2 1240.4 683.7 1240.7 686.1 1241.0 688.4 1241.2 690.6 1241.4 692.8 1241.6 694.9 1241.8 697.0 1241.9 699.0 1242.0 701.0 1242.1 703.1 1242.1 705.3 1242.1 707.5 1242.0 709.7 1241.9 712.0 1241.8 714.3 1241.6 716.7 1241.3 719.0 1241.1 721.3 1240.8 723.6 1240.5 725.9 1240.2 728.1 1239.8 730.3 1239.5 732.4 1239.1 734.6 1238.7 736.7 1238.3 738.9 1237.8 741.0 1237.2 743.2 1236.6 745.4 1236.0 747.6 1235.3 749.9 1234.5 752.1 1233.8 754.4 1233.0 756.7 1232.1 759.1 1231.3 761.4 1230.4 763.8 1229.5 766.3 1228.6 768.8 1227.7 771.2 1226.8 773.9 1225.8 776.7 1224.7 779.7 1223.6 782.8 1222.4 786.1 1221.2 789.5 1219.8 793.1 1218.5 796.9 1217.0 800.8 1215.6 804.8 1214.1 809.1 1212.6 813.4 1211.0 818.0 1209.5 822.7 1207.9 827.5 1206.3 832.5 1204.7 837.3 1203.1 842.0 1201.7 846.6 1200.3 850.9 1199.0 855.2 1197.7 859.2 1196.6 863.1 1195.5 866.9 1194.5 870.5 1193.6 874.1 1192.7 877.5 1191.9 880.9 1191.2 884.1 1190.6 887.3 1190.0 890.4 1189.5 893.3 1189.0 896.3 1188.7 899.4 1188.3 902.5 1188.1 905.6 1187.9 908.8 1187.8 912.0 1187.7 915.2 1187.7 918.5 1187.8 921.8 1187.9 925.2 1188.1 928.7 1188.4 932.2 1188.8 935.8 1189.2 939.4 1189.8 943.1 1190.4 946.9 1191.0 950.8 1191.8 954.8 1192.6 959.1 1193.5 963.4 1194.4 968.0 1195.4 972.7 1196.5 977.5 1197.6 982.5 1198.8 987.5 1200.1 992.5 1201.4 997.5 1202.8 1002.5 1204.2 1007.5 1205.8 1012.5 1207.3 1017.5 1209.0 1022.5 1210.7 1027.4 1212.4 1032.3 1214.0 1037.0 1215.5 1041.7 1217.0 1046.3 1218.5 1050.9 1219.9 1055.3 1221.2 1059.7 1222.5 1064.1 1223.7 1068.5 1225.0 1072.9 1226.2 1077.3 1227.3 1081.8 1228.4 1086.3 1229.5 1090.8 1230.6 1095.2 1231.6 1099.8 1232.6 1104.4 1233.6 1109.0 1234.7 1113.7 1235.7 1118.5 1236.6 1123.2 1237.6 1128.1 1238.6 1132.9 1239.6 1138.0 1240.5 1143.2 1241.5 1148.6 1242.4 1154.2 1243.3 1159.9 1244.1 1165.8 1245.0 1171.9 1245.8 1178.1 1246.6 1184.4 1247.4 1190.6 1248.1 1196.9 1248.7 1203.1 1249.4 1209.4 1249.9 1215.6 1250.5 1221.9 1251.0 1228.1 1251.4 1234.3 1251.8 1240.4 1252.2 1246.5 1252.6 1252.5 1252.9 1258.4 1253.2 1264.3 1253.4 1270.1 1253.7 1275.9 1253.8 1280.9 1254.0 1285.2 1254.1 1288.8 1254.3 1291.7 1254.4 1293.8 1254.4 1295.3 1254.5 1296.0 1254.5"/>
<path stroke="#8000ff" stroke-opacity="0.3" stroke-width="5.8" d="M209.5 968.0 209.5 968.0 209.6 968.1 209.7 968.3 209.8 968.5 210.0 968.7 210.2 969.0 210.4 969.3 210.7 969.6 211.0 970.1 211.3 970.6 211.6 971.3 211.9 972.0 212.3 972.9 212.7 973.8 213.1 974.9 213.6 976.0 214.2 977.5 215.0 979.2 216.0 981.2 217.2 983.5 218.6 986.1 220.1 989.0 221.9 992.2 223.8 995.8 225.7 999.2 227.6 1002.8 229.5 1006.2 231.4 1009.8 233.3 1013.2 235.1 1016.8 236.9 1020.2 238.8 1023.8 240.5 1027.3 242.2 1030.8 243.9 1034.3 245.5 1037.9 247.0 1041.5 248.5 1045.1 250.0 1048.7 251.4 1052.3 252.8 1056.0 254.3 1059.6 255.7 1063.3 257.2 1067.0 258.7 1070.7 260.3 1074.4 261.8 1078.1 263.4 1081.9 264.9 1085.4 266.4 1088.8 267.9 1092.0 269.3 1095.0 270.7 1097.8 272.0 1100.4 273.3 1102.9 274.6 1105.1 275.8 1107.2 276.9 1109.2 278.0 1111.0 279.0 1112.7 280.0 1114.3 280.9 1115.7 281.7 1116.9 282.5 1118.1 283.2 1119.1 284.0 1120.1 284.7 1120.9 285.4 1121.8 286.0 1122.5 286.7 1123.1 287.3 1123.7 287.9 1124.1 288.6 1124.6 289.2 1125.0 290.0 1125.4 290.8 1125.7 291.6 1126.0 292.6 1126.3 293.5 1126.5 294.5 1126.8 295.5 1126.9 296.5 1127.0 297.5 1127.1 298.5 1127.2 299.5 1127.1 300.5 1127.1 301.5 1127.0 302.5 1126.8 303.5 1126.6 304.5 1126.4 305.5 1126.1 306.5 1125.7 307.5 1125.3 308.5 1124.9 309.5 1124.4 310.5 1123.9 311.8 1123.0 313.3 1121.7 315.1 1120.1 317.2 1118.2 319.5 1115.9 322.1 1113.2 325.0 1110.2 328.2 1106.8 331.3 1103.4 334.4 1099.9 337.5 1096.4 340.6 1092.8 343.6 1089.2 346.6 1085.6 349.7 1081.9 352.6 1078.1 355.5 1074.6 358.3 1071.4 361.0 1068.5 363.5 1065.9 365.9 1063.5 368.3 1061.4 370.5 1059.5 372.6 1058.0 374.8 1056.5 376.9 1055.2 379.1 1054.0 381.4 1052.9 383.7 1051.9 386.0 1051.1 388.4 1050.4 390.7 1049.7 393.0 1049.2 395.1 1048.7 397.1 1048.3 399.0 1048.0 400.8 1047.7 402.4 1047.5 403.9 1047.3 405.2 1047.3 406.6 1047.2 407.9 1047.2 409.2 1047.2 410.5 1047.3 411.8 1047.4 413.1 1047.5 414.4 1047.7 415.6 1047.8 416.8 1048.1 417.9 1048.3 418.9 1048.6 419.8 1048.9 420.6 1049.2 421.4 1049.5 422.1 1049.9 422.6 1050.3 423.4 1050.8 424.3 1051.3 425.4 1051.9 426.6 1052.6 428.0 1053.3 429.5 1054.1 431.2 1054.9 433.1 1055.9 434.9 1056.9 436.8 1058.1 438.6 1059.4 440.5 1060.9 442.3 1062.5 444.1 1064.2 445.9 1066.1 447.7 1068.0 449.5 1070.1 451.3 1072.1 453.2 1074.2 455.0 1076.3 456.9 1078.4 458.8 1080.6 460.7 1082.7 462.6 1085.0 464.5 1087.2 466.4 1089.5 468.3 1091.7 470.2 1094.1 472.0 1096.4 473.9 1098.8 475.7 1101.1 477.6 1103.6 479.4 1106.0 481.3 1108.4 483.1 1110.8 485.0 1113.2 486.8 1115.6 488.7 1118.0 490.6 1120.4 492.4 1122.9 494.3 1125.3 496.2 1127.7 498.1 1130.1 499.9 1132.6 501.8 1135.0 503.7 1137.5 505.6 1139.9 507.4 1142.4 509.3 1144.8 511.2 1147.3 513.0 1149.7 514.9 1152.1 516.7 1154.5 518.6 1156.9 520.4 1159.3 522.3 1161.7 524.1 1164.0 525.9 1166.2 527.7 1168.3 529.6 1170.4 531.4 1172.4 533.2 1174.3 535.0 1176.1 536.7 1177.9 538.5 1179.6 540.4 1181.3 542.2 1183.0 544.1 1184.7 545.9 1186.3 547.8 1187.9 549.7 1189.6 551.7 1191.1 553.5 1192.6 555.3 1194.1 557.1 1195.4 558.8 1196.7 560.4 1197.8 562.0 1198.9 563.5 1199.9 564.9 1200.8 566.4 1201.7 567.8 1202.5 569.1 1203.4 570.5 1204.2 571.8 1204.9 573.1 1205.7 574.4 1206.4 575.6 1207.1 576.9 1207.8 578.3 1208.4 579.8 1209.1 581.3 1209.8 582.8 1210.4 584.5 1211.1 586.2 1211.7 587.9 1212.3 589.8 1213.0 591.9 1213.8 594.1 1214.7 596.4 1215.6 598.8 1216.6 601.4 1217.7 604.2 1218.9 607.0 1220.2 609.8 1221.4 612.5 1222.5 615.2 1223.6 617.7 1224.6 620.2 1225.5 622.6 1226.4 624.9 1227.2 627.2 1227.9 629.4 1228.6 631.7 1229.4 634.0 1230.1 636.3 1230.8 638.7 1231.4 641.1 1232.1 643.4 1232.8 645.9 1233.4 648.2 1234.1 650.6 1234.7 652.9 1235.2 655.3 1235.8 657.5 1236.3 659.8 1236.9 662.0 1237.4 664.3 1237.8 666.5 1238.3 668.8 1238.7 671.1 1239.2 673.4 1239.6 675.7 1240.0 678.1 1240.4 680.5 1240.8 682.9 1241.1 685.4 1241.5 687.9 1241.8 690.5 1242.1 693.1 1242.4 695.7 1242.6 698.4 1242.8 701.2 1243.1 703.9 1243.2 706.8 1243.4 709.9 1243.4 713.0 1243.4 716.3 1243.3 719.6 1243.1 723.1 1242.9 726.7 1242.6 730.4 1242.2 733.9 1241.8 737.2 1241.4 740.3 1240.9 743.2 1240.4 745.9 1239.9 748.4 1239.3 750.7 1238.8 752.7 1238.1 754.8 1237.5 756.8 1236.9 758.8 1236.3 760.8 1235.7 762.7 1235.1 764.7 1234.4 766.6 1233.8 768.4 1233.2 770.6 1232.4 773.1 1231.5 775.9 1230.4 779.1 1229.1 782.5 1227.7 786.2 1226.2 790.3 1224.4 794.7 1222.6 799.1 1220.7 803.7 1218.9 808.3 1217.1 813.0 1215.4 817.7 1213.7 822.6 1212.0 827.5 1210.3 832.5 1208.7 837.3 1207.1 842.0 1205.7 846.6 1204.3 850.9 1203.0 855.2 1201.7 859.2 1200.6 863.1 1199.5 866.9 1198.5 870.5 1197.6 874.1 1196.7 877.5 1195.9 880.9 1195.2 884.1 1194.5 887.3 1193.9 890.4 1193.3 893.3 1192.9 896.3 1192.5 899.4 1192.1 902.5 1191.9 905.6 1191.7 908.8 1191.6 912.0 1191.5 915.2 1191.5 918.5 1191.6 921.8 1191.8 925.2 1192.1 928.7 1192.4 932.2 1192.8 935.8 1193.3 939.4 1193.9 943.1 1194.6 946.9 1195.3 950.8 1196.1 954.8 1196.9 959.1 1197.8 963.4 1198.8 968.0 1199.8 972.7 1200.8 977.5 1201.9 982.5 1203.0 987.5 1204.2 992.5 1205.6 997.5 1207.0 1002.5 1208.5 1007.5 1210.1 1012.5 1211.8 1017.5 1213.6 1022.5 1215.4 1027.4 1217.2 1032.3 1219.0 1037.0 1220.6 1041.7 1222.2 1046.3 1223.6 1050.9 1225.0 1055.3 1226.4 1059.7 1227.6 1064.1 1228.8 1068.5 1230.0 1072.9 1231.2 1077.3 1232.3 1081.8 1233.4 1086.3 1234.5 1090.8 1235.5 1095.2 1236.5 1099.8 1237.5 1104.4 1238.5 1109.0 1239.4 1113.7 1240.3 1118.5 1241.3 1123.2 1242.2 1128.1 1243.1 1132.9 1243.9 1138.0 1244.8 1143.2 1245.6 1148.6 1246.5 1154.2 1247.3 1159.9 1248.1 1165.8 1248.9 1171.9 1249.6 1178.1 1250.4 1184.4 1251.1 1190.6 1251.7 1196.9 1252.2 1203.1 1252.8 1209.4 1253.2 1215.6 1253.6 1221.9 1253.9 1228.1 1254.1 1234.3 1254.4 1240.4 1254.6 1246.5 1254.8 1252.5 1255.0 1258.4 1255.3 1264.3 1255.5 1270.1 1255.7 1275.9 1255.8 1280.9 1256.0 1285.2 1256.1 1288.8 1256.3 1291.7 1256.4 1293.8 1256.4 1295.3 1256.5 1296.0 1256.5"/>
<path stroke="#8000ff" d="M209.5 968.0 209.5 968.0 209.6 968.1 209.7 968.3 209.8 968.5 210.0 968.7 210.2 969.0 210.4 969.3 210.7 969.6 211.0 970.1 211.3 970.6 211.6 971.3 211.9 972.0 212.3 972.9 212.7 973.8 213.1 974.9 213.6 976.0 214.2 977.5 215.0 979.2 216.0 981.2 217.2 983.5 218.6 986.1 220.1 989.0 221.9 992.2 223.8 995.8 225.7 999.2 227.6 1002.8 229.5 1006.2 231.4 1009.8 233.3 1013.2 235.1 1016.8 236.9 1020.2 238.8 1023.8 240.5 1027.3 242.2 1030.8 243.9 1034.3 245.5 1037.9 247.0 1041.5 248.5 1045.1 250.0 1048.7 251.4 1052.3 252.8 1056.0 254.3 1059.6 255.7 1063.3 257.2 1067.0 258.7 1070.7 260.3 1074.4 261.8 1078.1 263.4 1081.9 264.9 1085.4 266.4 1088.8 267.9 1092.0 269.3 1095.0 270.7 1097.8 272.0 1100.4 273.3 1102.9 274.6 1105.1 275.8 1107.2 276.9 1109.2 278.0 1111.0 279.0 1112.7 280.0 1114.3 280.9 1115.7 281.7 1116.9 282.5 1118.1 283.2 1119.1 284.0 1120.1 284.7 1120.9 285.4 1121.8 286.0 1122.5 286.7 1123.1 287.3 1123.7 287.9 1124.1 288.6 1124.6 289.2 1125.0 290.0 1125.4 290.8 1125.7 291.6 1126.0 292.6 1126.3 293.5 1126.5 294.5 1126.8 295.5 1126.9 296.5 1127.0 297.5 1127.1 298.5 1127.2 299.5 1127.1 300.5 1127.1 301.5 1127.0 302.5 1126.8 303.5 1126.6 304.5 1126.4 305.5 1126.1 306.5 1125.7 307.5 1125.3 308.5 1124.9 309.5 1124.4 310.5 1123.9 311.8 1123.0 313.3 1121.7 315.1 1120.1 317.2 1118.2 319.5 1115.9 322.1 1113.2 325.0 1110.2 328.2 1106.8 331.3 1103.4 334.4 1099.9 337.5 1096.4 340.6 1092.8 343.6 1089.2 346.6 1085.6 349.7 1081.9 352.6 1078.1 355.5 1074.6 358.3 1071.4 361.0 1068.5 363.5 1065.9 365.9 1063.5 368.3 1061.4 370.5 1059.5 372.6 1058.0 374.8 1056.5 376.9 1055.2 379.1 1054.0 381.4 1052.9 383.7 1051.9 386.0 1051.1 388.4 1050.4 390.7 1049.7 393.0 1049.2 395.1 1048.7 397.1 1048.3 399.0 1048.0 400.8 1047.7 402.4 1047.5 403.9 1047.3 405.2 1047.3 406.6 1047.2 407.9 1047.2 409.2 1047.2 410.5 1047.3 411.8 1047.4 413.1 1047.5 414.4 1047.7 415.6 1047.8 416.8 1048.1 417.9 1048.3 418.9 1048.6 419.8 1048.9 420.6 1049.2 421.4 1049.5 422.1 1049.9 422.6 1050.3 423.4 1050.8 424.3 1051.3 425.4 1051.9 426.6 1052.6 428.0 1053.3 429.5 1054.1 431.2 1054.9 433.1 1055.9 434.9 1056.9 436.8 1058.1 438.6 1059.4 440.5 1060.9 442.3 1062.5 444.1 1064.2 445.9 1066.1 447.7 1068.0 449.5 1070.1 451.3 1072.1 453.2 1074.2 455.0 1076.3 456.9 1078.4 458.8 1080.6 460.7 1082.7 462.6 1085.0 464.5 1087.2 466.4 1089.5 468.3 1091.7 470.2 1094.1 472.0 1096.4 473.9 1098.8 475.7 1101.1 477.6 1103.6 479.4 1106.0 481.3 1108.4 483.1 1110.8 485.0 1113.2 486.8 1115.6 488.7 1118.0 490.6 1120.4 492.4 1122.9 494.3 1125.3 496.2 1127.7 498.1 1130.1 499.9 1132.6 501.8 1135.0 503.7 1137.5 505.6 1139.9 507.4 1142.4 509.3 1144.8 511.2 1147.3 513.0 1149.7 514.9 1152.1 516.7 1154.5 518.6 1156.9 520.4 1159.3 522.3 1161.7 524.1 1164.0 525.9 1166.2 527.7 1168.3 529.6 1170.4 531.4 1172.4 533.2 1174.3 535.0 1176.1 536.7 1177.9 538.5 1179.6 540.4 1181.3 542.2 1183.0 544.1 1184.7 545.9 1186.3 547.8 1187.9 549.7 1189.6 551.7 1191.1 553.5 1192.6 555.3 1194.1 557.1 1195.4 558.8 1196.7 560.4 1197.8 562.0 1198.9 563.5 1199.9 564.9 1200.8 566.4 1201.7 567.8 1202.5 569.1 1203.4 570.5 1204.2 571.8 1204.9 573.1 1205.7 574.4 1206.4 575.6 1207.1 576.9 1207.8 578.3 1208.4 579.8 1209.1 581.3 1209.8 582.8 1210.4 584.5 1211.1 586.2 1211.7 587.9 1212.3 589.8 1213.0 591.9 1213.8 594.1 1214.7 596.4 1215.6 598.8 1216.6 601.4 1217.7 604.2 1218.9 607.0 1220.2 609.8 1221.4 612.5 1222.5 615.2 1223.6 617.7 1224.6 620.2 1225.5 622.6 1226.4 624.9 1227.2 627.2 1227.9 629.4 1228.6 631.7 1229.4 634.0 1230.1 636.3 1230.8 638.7 1231.4 641.1 1232.1 643.4 1232.8 645.9 1233.4 648.2 1234.1 650.6 1234.7 652.9 1235.2 655.3 1235.8 657.5 1236.3 659.8 1236.9 662.0 1237.4 664.3 1237.8 666.5 1238.3 668.8 1238.7 671.1 1239.2 673.4 1239.6 675.7 1240.0 678.1 1240.4 680.5 1240.8 682.9 1241.1 685.4 1241.5 687.9 1241.8 690.5 1242.1 693.1 1242.4 695.7 1242.6 698.4 1242.8 701.2 1243.1 703.9 1243.2 706.8 1243.4 709.9 1243.4 713.0 1243.4 716.3 1243.3 719.6 1243.1 723.1 1242.9 726.7 1242.6 730.4 1242.2 733.9 1241.8 737.2 1241.4 740.3 1240.9 743.2 1240.4 745.9 1239.9 748.4 1239.3 750.7 1238.8 752.7 1238.1 754.8 1237.5 756.8 1236.9 758.8 1236.3 760.8 1235.7 762.7 1235.1 764.7 1234.4 766.6 1233.8 768.4 1233.2 770.6 1232.4 773.1 1231.5 775.9 1230.4 779.1 1229.1 782.5 1227.7 786.2 1226.2 790.3 1224.4 794.7 1222.6 799.1 1220.7 803.7 1218.9 808.3 1217.1 813.0 1215.4 817.7 1213.7 822.6 1212.0 827.5 1210.3 832.5 1208.7 837.3 1207.1 842.0 1205.7 846.6 1204.3 850.9 1203.0 855.2 1201.7 859.2 1200.6 863.1 1199.5 866.9 1198.5 870.5 1197.6 874.1 1196.7 877.5 1195.9 880.9 1195.2 884.1 1194.5 887.3 1193.9 890.4 1193.3 893.3 1192.9 896.3 1192.5 899.4 1192.1 902.5 1191.9 905.6 1191.7 908.8 1191.6 912.0 1191.5 915.2 1191.5 918.5 1191.6 921.8 1191.8 925.2 1192.1 928.7 1192.4 932.2 1192.8 935.8 1193.3 939.4 1193.9 943.1 1194.6 946.9 1195.3 950.8 1196.1 954.8 1196.9 959.1 1197.8 963.4 1198.8 968.0 1199.8 972.7 1200.8 977.5 1201.9 982.5 1203.0 987.5 1204.2 992.5 1205.6 997.5 1207.0 1002.5 1208.5 1007.5 1210.1 1012.5 1211.8 1017.5 1213.6 1022.5 1215.4 1027.4 1217.2 1032.3 1219.0 1037.0 1220.6 1041.7 1222.2 1046.3 1223.6 1050.9 1225.0 1055.3 1226.4 1059.7 1227.6 1064.1 1228.8 1068.5 1230.0 1072.9 1231.2 1077.3 1232.3 1081.8 1233.4 1086.3 1234.5 1090.8 1235.5 1095.2 1236.5 1099.8 1237.5 1104.4 1238.5 1109.0 1239.4 1113.7 1240.3 1118.5 1241.3 1123.2 1242.2 1128.1 1243.1 1132.9 1243.9 1138.0 1244.8 1143.2 1245.6 1148.6 1246.5 1154.2 1247.3 1159.9 1248.1 1165.8 1248.9 1171.9 1249.6 1178.1 1250.4 1184.4 1251.1 1190.6 1251.7 1196.9 1252.2 1203.1 1252.8 1209.4 1253.2 1215.6 1253.6 1221.9 1253.9 1228.1 1254.1 1234.3 1254.4 1240.4 1254.6 1246.5 1254.8 1252.5 1255.0 1258.4 1255.3 1264.3 1255.5 1270.1 1255.7 1275.9 1255.8 1280.9 1256.0 1285.2 1256.1 1288.8 1256.3 1291.7 1256.4 1293.8 1256.4 1295.3 1256.5 1296.0 1256.5"/>
<path stroke="#990099" stroke-opacity="0.3" stroke-width="5.8" d="M209.5 1026.0 209.6 1026.2 209.8 1026.5 210.0 1026.9 210.4 1027.6 210.8 1028.3 211.3 1029.3 211.9 1030.4 212.6 1031.6 213.5 1033.2 214.6 1035.0 216.0 1037.2 217.6 1039.6 219.4 1042.3 221.4 1045.4 223.6 1048.7 226.1 1052.3 228.5 1056.0 230.9 1059.6 233.3 1063.3 235.6 1067.0 237.9 1070.7 240.2 1074.4 242.5 1078.1 244.7 1081.9 246.9 1085.6 249.0 1089.2 251.0 1092.8 252.9 1096.4 254.8 1099.9 256.6 1103.4 258.4 1106.8 260.0 1110.2 261.7 1113.5 263.5 1116.9 265.2 1120.2 267.0 1123.5 268.8 1126.8 270.6 1130.1 272.4 1133.4 274.3 1136.6 276.1 1139.6 277.8 1142.2 279.4 1144.6 281.0 1146.7 282.5 1148.4 283.9 1149.9 285.3 1151.1 286.5 1151.9 287.8 1152.7 289.0 1153.3 290.2 1153.8 291.5 1154.1 292.6 1154.3 293.8 1154.4 294.9 1154.3 296.1 1154.2 297.3 1153.9 298.6 1153.5 300.0 1153.1 301.6 1152.6 303.2 1152.0 304.9 1151.4 306.8 1150.7 308.7 1149.8 310.9 1148.7 313.2 1147.4 315.8 1145.7 318.6 1143.7 321.5 1141.4 324.7 1138.9 328.1 1136.1 331.8 1132.9 335.4 1129.8 339.0 1126.6 342.7 1123.4 346.3 1120.1 350.0 1116.8 353.7 1113.5 357.4 1110.2 361.2 1106.8 364.6 1103.8 367.9 1101.0 370.8 1098.7 373.5 1096.6 376.0 1094.9 378.2 1093.5 380.2 1092.4 381.9 1091.6 383.6 1090.9 385.2 1090.3 386.8 1089.8 388.4 1089.3 389.9 1088.9 391.4 1088.5 392.8 1088.2 394.2 1088.0 395.6 1087.8 397.0 1087.6 398.4 1087.5 399.8 1087.3 401.1 1087.2 402.5 1087.2 403.9 1087.1 405.2 1087.1 406.6 1087.1 407.9 1087.1 409.2 1087.1 410.5 1087.2 411.8 1087.3 413.1 1087.4 414.4 1087.5 415.6 1087.6 416.8 1087.8 417.9 1087.9 418.9 1088.1 419.8 1088.3 420.7 1088.5 421.5 1088.7 422.2 1088.9 422.8 1089.2 423.6 1089.5 424.5 1089.8 425.6 1090.2 426.8 1090.7 428.2 1091.2 429.7 1091.8 431.4 1092.5 433.2 1093.2 435.0 1094.0 436.9 1094.9 438.7 1096.0 440.5 1097.1 442.3 1098.3 444.1 1099.6 445.9 1101.1 447.7 1102.6 449.5 1104.2 451.3 1105.8 453.2 1107.4 455.0 1109.1 456.9 1110.8 458.8 1112.5 460.7 1114.3 462.6 1116.1 464.5 1117.9 466.4 1119.7 468.3 1121.5 470.2 1123.3 472.0 1125.1 473.9 1127.0 475.7 1128.8 477.6 1130.6 479.4 1132.4 481.3 1134.3 483.1 1136.1 485.0 1138.0 486.8 1139.9 488.7 1141.7 490.6 1143.6 492.4 1145.5 494.3 1147.4 496.2 1149.3 498.1 1151.1 499.9 1153.0 501.8 1154.9 503.7 1156.8 505.6 1158.6 507.4 1160.5 509.3 1162.3 511.2 1164.2 513.0 1166.1 514.9 1167.9 516.7 1169.8 518.6 1171.6 520.4 1173.5 522.3 1175.3 524.1 1177.1 525.9 1178.9 527.7 1180.5 529.6 1182.2 531.4 1183.7 533.2 1185.2 535.0 1186.7 536.7 1188.1 538.5 1189.5 540.4 1190.9 542.2 1192.3 544.1 1193.7 545.9 1195.1 547.8 1196.5 549.7 1197.9 551.7 1199.2 553.5 1200.6 555.3 1201.8 557.1 1203.0 558.8 1204.1 560.4 1205.2 562.0 1206.2 563.5 1207.1 564.9 1208.0 566.4 1208.8 567.8 1209.6 569.1 1210.3 570.5 1211.1 571.8 1211.7 573.1 1212.4 574.4 1213.0 575.6 1213.5 576.9 1214.1 578.3 1214.7 579.8 1215.3 581.3 1215.9 582.8 1216.5 584.5 1217.1 586.2 1217.7 587.9 1218.3 589.8 1219.0 591.9 1219.8 594.1 1220.7 596.4 1221.6 598.8 1222.6 601.4 1223.7 604.2 1224.9 607.0 1226.1 609.8 1227.3 612.5 1228.4 615.2 1229.5 617.7 1230.4 620.2 1231.3 622.6 1232.1 624.9 1232.9 627.2 1233.6 629.4 1234.3 631.7 1234.9 634.0 1235.6 636.3 1236.2 638.7 1236.9 641.1 1237.5 643.4 1238.1 645.9 1238.8 648.2 1239.4 650.6 1240.0 652.9 1240.6 655.3 1241.2 657.5 1241.7 659.8 1242.3 662.0 1242.9 664.3 1243.5 666.5 1244.1 668.8 1244.6 671.1 1245.2 673.4 1245.7 675.7 1246.2 678.1 1246.7 680.5 1247.2 682.9 1247.8 685.2 1248.2 687.5 1248.6 689.6 1249.0 691.7 1249.3 693.7 1249.5 695.6 1249.8 697.3 1249.9 699.1 1250.1 700.8 1250.2 702.6 1250.2 704.4 1250.3 706.3 1250.3 708.2 1250.3 710.1 1250.3 712.1 1250.3 714.1 1250.2 716.2 1250.1 718.4 1250.1 720.6 1250.0 722.9 1249.8 725.3 1249.7 727.8 1249.6 730.3 1249.4 732.9 1249.3 735.5 1249.1 738.0 1248.8 740.4 1248.5 742.9 1248.2 745.2 1247.8 747.6 1247.3 749.9 1246.9 752.1 1246.3 754.3 1245.8 756.5 1245.3 758.6 1244.7 760.7 1244.2 762.7 1243.6 764.6 1243.1 766.6 1242.5 768.4 1242.0 770.6 1241.3 773.1 1240.6 775.9 1239.8 779.1 1238.9 782.5 1237.9 786.2 1236.8 790.3 1235.6 794.7 1234.4 799.1 1233.2 803.7 1232.0 808.3 1230.8 813.0 1229.7 817.7 1228.6 822.6 1227.5 827.5 1226.5 832.5 1225.5 837.3 1224.5 842.0 1223.6 846.6 1222.7 850.9 1221.8 855.2 1221.0 859.2 1220.2 863.1 1219.4 866.9 1218.6 870.5 1217.9 874.1 1217.3 877.5 1216.7 880.9 1216.2 884.1 1215.7 887.3 1215.3 890.4 1214.9 893.3 1214.6 896.3 1214.3 899.4 1214.2 902.5 1214.0 905.6 1214.0 908.8 1214.0 912.0 1214.0 915.2 1214.2 918.5 1214.3 921.8 1214.6 925.2 1214.9 928.7 1215.3 932.2 1215.7 935.8 1216.1 939.4 1216.7 943.1 1217.3 946.9 1217.9 950.8 1218.6 954.8 1219.3 959.1 1219.9 963.4 1220.6 968.0 1221.3 972.7 1222.0 977.5 1222.7 982.5 1223.5 987.5 1224.3 992.5 1225.1 997.5 1226.0 1002.5 1227.0 1007.5 1228.1 1012.5 1229.2 1017.5 1230.4 1022.5 1231.6 1027.4 1232.8 1032.3 1234.0 1037.0 1235.1 1041.7 1236.2 1046.3 1237.2 1050.9 1238.1 1055.3 1239.1 1059.7 1239.9 1064.1 1240.8 1068.5 1241.6 1072.9 1242.4 1077.3 1243.1 1081.8 1243.8 1086.3 1244.5 1090.8 1245.2 1095.2 1245.8 1099.8 1246.4 1104.4 1247.0 1109.0 1247.6 1113.7 1248.2 1118.5 1248.7 1123.2 1249.2 1128.1 1249.8 1132.9 1250.2 1138.0 1250.7 1143.2 1251.2 1148.6 1251.6 1154.2 1251.9 1159.9 1252.3 1165.8 1252.6 1171.9 1252.9 1178.1 1253.1 1184.4 1253.4 1190.6 1253.6 1196.9 1253.9 1203.1 1254.2 1209.4 1254.5 1215.6 1254.8 1221.9 1255.1 1228.1 1255.4 1234.3 1255.7 1240.4 1256.0 1246.5 1256.2 1252.5 1256.4 1258.4 1256.6 1264.3 1256.8 1270.1 1256.9 1275.9 1257.1 1280.9 1257.2 1285.2 1257.3 1288.8 1257.3 1291.7 1257.4 1293.8 1257.5 1295.3 1257.5 1296.0 1257.5"/>
<path stroke="#990099" d="M209.5 1026.0 209.6 1026.2 209.8 1026.5 210.0 1026.9 210.4 1027.6 210.8 1028.3 211.3 1029.3 211.9 1030.4 212.6 1031.6 213.5 1033.2 214.6 1035.0 216.0 1037.2 217.6 1039.6 219.4 1042.3 221.4 1045.4 223.6 1048.7 226.1 1052.3 228.5 1056.0 230.9 1059.6 233.3 1063.3 235.6 1067.0 237.9 1070.7 240.2 1074.4 242.5 1078.1 244.7 1081.9 246.9 1085.6 249.0 1089.2 251.0 1092.8 252.9 1096.4 254.8 1099.9 256.6 1103.4 258.4 1106.8 260.0 1110.2 261.7 1113.5 263.5 1116.9 265.2 1120.2 267.0 1123.5 268.8 1126.8 270.6 1130.1 272.4 1133.4 274.3 1136.6 276.1 1139.6 277.8 1142.2 279.4 1144.6 281.0 1146.7 282.5 1148.4 283.9 1149.9 285.3 1151.1 286.5 1151.9 287.8 1152.7 289.0 1153.3 290.2 1153.8 291.5 1154.1 292.6 1154.3 293.8 1154.4 294.9 1154.3 296.1 1154.2 297.3 1153.9 298.6 1153.5 300.0 1153.1 301.6 1152.6 303.2 1152.0 304.9 1151.4 306.8 1150.7 308.7 1149.8 310.9 1148.7 313.2 1147.4 315.8 1145.7 318.6 1143.7 321.5 1141.4 324.7 1138.9 328.1 1136.1 331.8 1132.9 335.4 1129.8 339.0 1126.6 342.7 1123.4 346.3 1120.1 350.0 1116.8 353.7 1113.5 357.4 1110.2 361.2 1106.8 364.6 1103.8 367.9 1101.0 370.8 1098.7 373.5 1096.6 376.0 1094.9 378.2 1093.5 380.2 1092.4 381.9 1091.6 383.6 1090.9 385.2 1090.3 386.8 1089.8 388.4 1089.3 389.9 1088.9 391.4 1088.5 392.8 1088.2 394.2 1088.0 395.6 1087.8 397.0 1087.6 398.4 1087.5 399.8 1087.3 401.1 1087.2 402.5 1087.2 403.9 1087.1 405.2 1087.1 406.6 1087.1 407.9 1087.1 409.2 1087.1 410.5 1087.2 411.8 1087.3 413.1 1087.4 414.4 1087.5 415.6 1087.6 416.8 1087.8 417.9 1087.9 418.9 1088.1 419.8 1088.3 420.7 1088.5 421.5 1088.7 422.2 1088.9 422.8 1089.2 423.6 1089.5 424.5 1089.8 425.6 1090.2 426.8 1090.7 428.2 1091.2 429.7 1091.8 431.4 1092.5 433.2 1093.2 435.0 1094.0 436.9 1094.9 438.7 1096.0 440.5 1097.1 442.3 1098.3 444.1 1099.6 445.9 1101.1 447.7 1102.6 449.5 1104.2 451.3 1105.8 453.2 1107.4 455.0 1109.1 456.9 1110.8 458.8 1112.5 460.7 1114.3 462.6 1116.1 464.5 1117.9 466.4 1119.7 468.3 1121.5 470.2 1123.3 472.0 1125.1 473.9 1127.0 475.7 1128.8 477.6 1130.6 479.4 1132.4 481.3 1134.3 483.1 1136.1 485.0 1138.0 486.8 1139.9 488.7 1141.7 490.6 1143.6 492.4 1145.5 494.3 1147.4 496.2 1149.3 498.1 1151.1 499.9 1153.0 501.8 1154.9 503.7 1156.8 505.6 1158.6 507.4 1160.5 509.3 1162.3 511.2 1164.2 513.0 1166.1 514.9 1167.9 516.7 1169.8 518.6 1171.6 520.4 1173.5 522.3 1175.3 524.1 1177.1 525.9 1178.9 527.7 1180.5 529.6 1182.2 531.4 1183.7 533.2 1185.2 535.0 1186.7 536.7 1188.1 538.5 1189.5 540.4 1190.9 542.2 1192.3 544.1 1193.7 545.9 1195.1 547.8 1196.5 549.7 1197.9 551.7 1199.2 553.5 1200.6 555.3 1201.8 557.1 1203.0 558.8 1204.1 560.4 1205.2 562.0 1206.2 563.5 1207.1 564.9 1208.0 566.4 1208.8 567.8 1209.6 569.1 1210.3 570.5 1211.1 571.8 1211.7 573.1 1212.4 574.4 1213.0 575.6 1213.5 576.9 1214.1 578.3 1214.7 579.8 1215.3 581.3 1215.9 582.8 1216.5 584.5 1217.1 586.2 1217.7 587.9 1218.3 589.8 1219.0 591.9 1219.8 594.1 1220.7 596.4 1221.6 598.8 1222.6 601.4 1223.7 604.2 1224.9 607.0 1226.1 609.8 1227.3 612.5 1228.4 615.2 1229.5 617.7 1230.4 620.2 1231.3 622.6 1232.1 624.9 1232.9 627.2 1233.6 629.4 1234.3 631.7 1234.9 634.0 1235.6 636.3 1236.2 638.7 1236.9 641.1 1237.5 643.4 1238.1 645.9 1238.8 648.2 1239.4 650.6 1240.0 652.9 1240.6 655.3 1241.2 657.5 1241.7 659.8 1242.3 662.0 1242.9 664.3 1243.5 666.5 1244.1 668.8 1244.6 671.1 1245.2 673.4 1245.7 675.7 1246.2 678.1 1246.7 680.5 1247.2 682.9 1247.8 685.2 1248.2 687.5 1248.6 689.6 1249.0 691.7 1249.3 693.7 1249.5 695.6 1249.8 697.3 1249.9 699.1 1250.1 700.8 1250.2 702.6 1250.2 704.4 1250.3 706.3 1250.3 708.2 1250.3 710.1 1250.3 712.1 1250.3 714.1 1250.2 716.2 1250.1 718.4 1250.1 720.6 1250.0 722.9 1249.8 725.3 1249.7 727.8 1249.6 730.3 1249.4 732.9 1249.3 735.5 1249.1 738.0 1248.8 740.4 1248.5 742.9 1248.2 745.2 1247.8 747.6 1247.3 749.9 1246.9 752.1 1246.3 754.3 1245.8 756.5 1245.3 758.6 1244.7 760.7 1244.2 762.7 1243.6 764.6 1243.1 766.6 1242.5 768.4 1242.0 770.6 1241.3 773.1 1240.6 775.9 1239.8 779.1 1238.9 782.5 1237.9 786.2 1236.8 790.3 1235.6 794.7 1234.4 799.1 1233.2 803.7 1232.0 808.3 1230.8 813.0 1229.7 817.7 1228.6 822.6 1227.5 827.5 1226.5 832.5 1225.5 837.3 1224.5 842.0 1223.6 846.6 1222.7 850.9 1221.8 855.2 1221.0 859.2 1220.2 863.1 1219.4 866.9 1218.6 870.5 1217.9 874.1 1217.3 877.5 1216.7 880.9 1216.2 884.1 1215.7 887.3 1215.3 890.4 1214.9 893.3 1214.6 896.3 1214.3 899.4 1214.2 902.5 1214.0 905.6 1214.0 908.8 1214.0 912.0 1214.0 915.2 1214.2 918.5 1214.3 921.8 1214.6 925.2 1214.9 928.7 1215.3 932.2 1215.7 935.8 1216.1 939.4 1216.7 943.1 1217.3 946.9 1217.9 950.8 1218.6 954.8 1219.3 959.1 1219.9 963.4 1220.6 968.0 1221.3 972.7 1222.0 977.5 1222.7 982.5 1223.5 987.5 1224.3 992.5 1225.1 997.5 1226.0 1002.5 1227.0 1007.5 1228.1 1012.5 1229.2 1017.5 1230.4 1022.5 1231.6 1027.4 1232.8 1032.3 1234.0 1037.0 1235.1 1041.7 1236.2 1046.3 1237.2 1050.9 1238.1 1055.3 1239.1 1059.7 1239.9 1064.1 1240.8 1068.5 1241.6 1072.9 1242.4 1077.3 1243.1 1081.8 1243.8 1086.3 1244.5 1090.8 1245.2 1095.2 1245.8 1099.8 1246.4 1104.4 1247.0 1109.0 1247.6 1113.7 1248.2 1118.5 1248.7 1123.2 1249.2 1128.1 1249.8 1132.9 1250.2 1138.0 1250.7 1143.2 1251.2 1148.6 1251.6 1154.2 1251.9 1159.9 1252.3 1165.8 1252.6 1171.9 1252.9 1178.1 1253.1 1184.4 1253.4 1190.6 1253.6 1196.9 1253.9 1203.1 1254.2 1209.4 1254.5 1215.6 1254.8 1221.9 1255.1 1228.1 1255.4 1234.3 1255.7 1240.4 1256.0 1246.5 1256.2 1252.5 1256.4 1258.4 1256.6 1264.3 1256.8 1270.1 1256.9 1275.9 1257.1 1280.9 1257.2 1285.2 1257.3 1288.8 1257.3 1291.7 1257.4 1293.8 1257.5 1295.3 1257.5 1296.0 1257.5"/>
</g>
<g stroke="#505050" stroke-width="2.4" stroke-dasharray="9 7" fill="none">
<path d="M410.3 640V1258"/>
<path d="M658.7 642V1258"/>
<path d="M901.6 1086.5L904 1258"/>
</g>
<g font-size="48">
<text x="184" y="1268.5" text-anchor="end">0.0</text><text x="184" y="1095.3" text-anchor="end">0.1</text><text x="184" y="922.1" text-anchor="end">0.2</text><text x="184" y="748.9" text-anchor="end">0.3</text><text x="184" y="575.7" text-anchor="end">0.4</text><text x="184" y="402.5" text-anchor="end">0.5</text><text x="184" y="229.3" text-anchor="end">0.6</text><text x="184" y="56.1" text-anchor="end">0.7</text>
<text x="209.5" y="1320" text-anchor="middle">250</text><text x="390.6" y="1320" text-anchor="middle">300</text><text x="571.6" y="1320" text-anchor="middle">350</text><text x="752.6" y="1320" text-anchor="middle">400</text><text x="933.7" y="1320" text-anchor="middle">450</text><text x="1114.8" y="1320" text-anchor="middle">500</text><text x="1295.8" y="1320" text-anchor="middle">550</text>
</g>
<g font-size="58">
<text x="550" y="256">346 nm</text>
<text x="260" y="632">306nm</text>
<text x="686" y="673">374 nm</text>
<text x="920" y="1079">442 nm</text>
<text x="829" y="897">a</text>
<text x="830.5" y="1040">h</text>
<text transform="translate(63,931) rotate(-90)">absorbance / a.u.</text>
<text x="632.5" y="1415">/ nm</text>
</g>
<path d="M591 1382.5C594 1380.5 598 1381 600 1385L611 1412C612 1414.5 614 1414 616 1411M601.5 1397L589.5 1415" stroke="#000" stroke-width="3" fill="none"/>
<path d="M842 911V955" stroke="#000" stroke-width="3.8"/>
<path d="M832.5 951.5L851 951.5L840.5 986.5Z" fill="#000"/>
</svg>
</body></html>
